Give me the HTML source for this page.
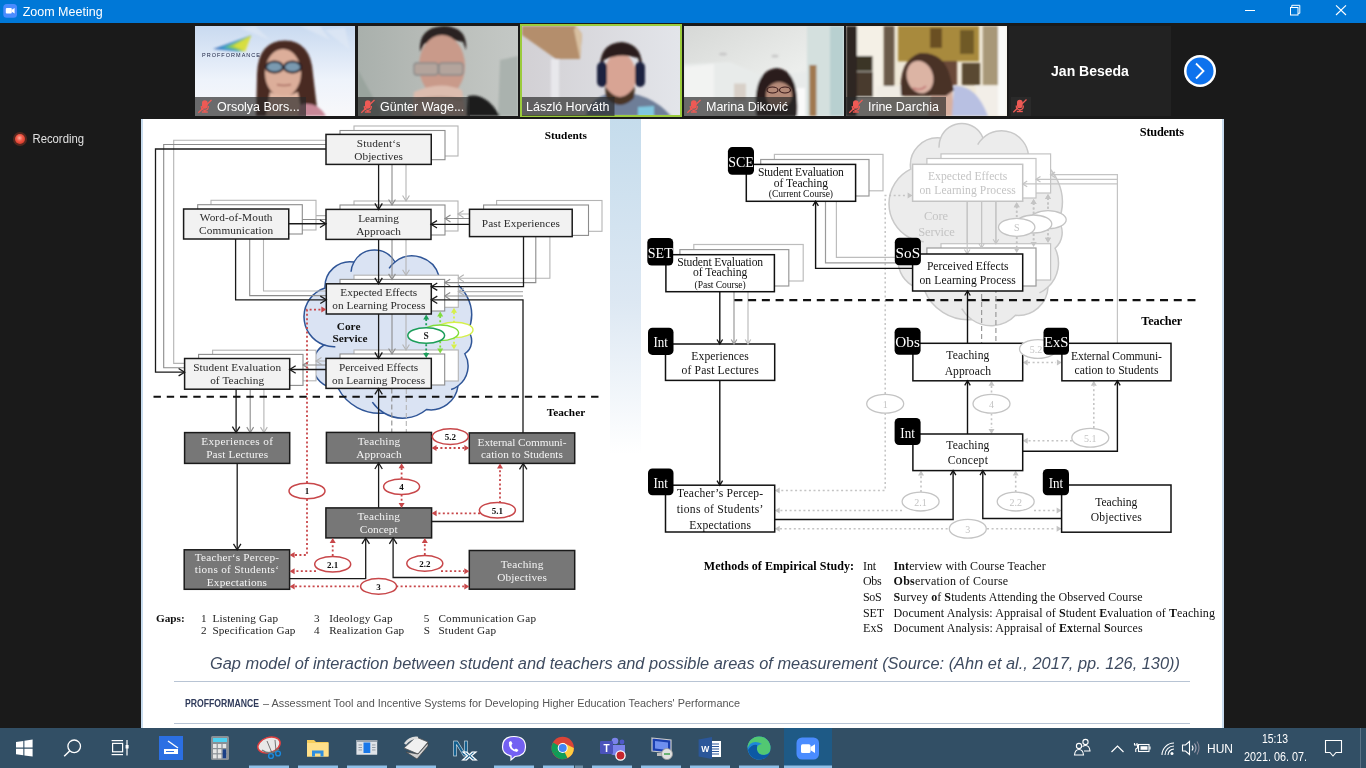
<!DOCTYPE html>
<html><head><meta charset="utf-8"><title>Zoom Meeting</title>
<style>
html,body{margin:0;padding:0;width:1366px;height:768px;overflow:hidden;background:#1a1a1a;}
body{position:relative;font-family:"Liberation Sans",sans-serif;}
</style></head><body>
<svg width="1366" height="768" viewBox="0 0 1366 768" style="position:absolute;left:0;top:0;will-change:transform"><rect x="0" y="0" width="1366" height="768" fill="#1a1a1a" stroke="none" stroke-width="1" rx="0" />
<rect x="0" y="0" width="1366" height="23" fill="#0078d7" stroke="none" stroke-width="1" rx="0" />
<rect x="3.3" y="4" width="13.7" height="13.7" fill="#4a8cff" stroke="none" stroke-width="1" rx="3.5" />
<rect x="5.8" y="8" width="6" height="5.6" fill="#fff" stroke="none" stroke-width="1" rx="1" />
<polygon points="11.8,9.8 14.6,8 14.6,13.6 11.8,11.8" fill="#fff"/>
<text x="22.7" y="15.7" font-size="12.5" fill="#fff" text-anchor="start" font-weight="normal" font-style="normal" font-family="Liberation Sans, sans-serif" >Zoom Meeting</text>
<line x1="1245" y1="10.5" x2="1255" y2="10.5" stroke="#fff" stroke-width="1" />
<rect x="1290.5" y="7.5" width="7.5" height="7.5" fill="none" stroke="#fff" stroke-width="1" rx="0" />
<polyline points="1291.8,7.5 1291.8,5.3 1299.8,5.3 1299.8,13.3 1298,13.3" fill="none" stroke="#fff" stroke-width="1"/>
<line x1="1336" y1="5.3" x2="1346" y2="15" stroke="#fff" stroke-width="1.1" />
<line x1="1346" y1="5.3" x2="1336" y2="15" stroke="#fff" stroke-width="1.1" />
<defs><linearGradient id="t1" x1="0" y1="0" x2="0" y2="1"><stop offset="0" stop-color="#c9daf0"/><stop offset="0.6" stop-color="#eef3fb"/><stop offset="1" stop-color="#f8f8fa"/></linearGradient><linearGradient id="t2" x1="0" y1="0" x2="1" y2="0"><stop offset="0" stop-color="#a9b0ac"/><stop offset="0.5" stop-color="#b9bdb9"/><stop offset="1" stop-color="#c4c8c5"/></linearGradient><linearGradient id="t3" x1="0" y1="0" x2="1" y2="0"><stop offset="0" stop-color="#d2d0d4"/><stop offset="1" stop-color="#e3e5ea"/></linearGradient><linearGradient id="t4" x1="0" y1="0" x2="1" y2="0"><stop offset="0" stop-color="#c5c8c6"/><stop offset="0.7" stop-color="#e0e6e4"/><stop offset="1" stop-color="#b8cccc"/></linearGradient><linearGradient id="blu" x1="0" y1="0" x2="0" y2="1"><stop offset="0" stop-color="#c5dcec"/><stop offset="0.55" stop-color="#dde8f3"/><stop offset="1" stop-color="#ffffff"/></linearGradient><radialGradient id="rec" cx="0.45" cy="0.4" r="0.6"><stop offset="0" stop-color="#ffb0a0"/><stop offset="0.5" stop-color="#f05a48"/><stop offset="1" stop-color="#d83a2a"/></radialGradient></defs>
<defs><filter id="bl" x="-10%" y="-10%" width="120%" height="120%"><feGaussianBlur stdDeviation="1.1"/></filter><filter id="bl2"><feGaussianBlur stdDeviation="2.5"/></filter><clipPath id="c1"><rect x="195" y="26" width="160" height="90"/></clipPath><clipPath id="c2"><rect x="358" y="26" width="160" height="90"/></clipPath><clipPath id="c3"><rect x="522" y="26" width="158" height="89"/></clipPath><clipPath id="c4"><rect x="684" y="26" width="160" height="90"/></clipPath><clipPath id="c5"><rect x="846" y="26" width="161" height="90"/></clipPath></defs>
<g clip-path="url(#c1)">
<rect x="195" y="26" width="160" height="90" fill="url(#t1)" stroke="none" stroke-width="1" rx="0" />
<g filter="url(#bl)">
<path d="M300 26 L330 40 L320 26 Z M325 30 L350 50 L345 28 Z M240 28 L270 40 L255 26Z" fill="#dfe8f5" opacity="0.7"/>
<path d="M213 49.0 L251 35.5 L238.0 51.5 Z" fill="#2a5fb0" opacity="0.85"/>
<path d="M217 48.4 L251 35.5 L239.5 51.5 Z" fill="#3a8fd0" opacity="0.85"/>
<path d="M221 47.8 L251 35.5 L241.0 51.5 Z" fill="#45b0c8" opacity="0.85"/>
<path d="M225 47.2 L251 35.5 L242.5 51.5 Z" fill="#6cc070" opacity="0.85"/>
<path d="M229 46.6 L251 35.5 L244.0 51.5 Z" fill="#a8d040" opacity="0.85"/>
<path d="M233 46.0 L251 35.5 L245.5 51.5 Z" fill="#e0e040" opacity="0.85"/>
</g>
<text x="202" y="57" font-size="5.5" fill="#1a2040" text-anchor="start" font-weight="normal" font-style="normal" font-family="Liberation Sans, sans-serif" font-weight="bold" textLength="58" lengthAdjust="spacing">PROFFORMANCE</text>
<g filter="url(#bl)">
<path d="M256 116 L257 74 Q258 41 285 40.6 Q311 41 313 74 L318 116 Z" fill="#4a2a22"/>
<ellipse cx="283" cy="73" rx="18" ry="24" fill="#dcae9a"/>
<path d="M265 60 Q270 47 285 46 Q300 47 302 62 L302 52 Q296 42 284 42 Q268 43 265 54 Z" fill="#4a2a22"/>
<ellipse cx="274.5" cy="67" rx="8.5" ry="5.6" fill="#7a9ab0" stroke="#1a1a28" stroke-width="2"/><ellipse cx="292.5" cy="67" rx="8.5" ry="5.6" fill="#7a9ab0" stroke="#1a1a28" stroke-width="2"/>
<path d="M277 84.5 Q284 86.5 291 84.5" stroke="#a86a60" stroke-width="1.5" fill="none"/>
<path d="M266 116 L270 92 Q284 99 298 92 L302 116 Z" fill="#e2b8a4"/>
<path d="M300 105 Q316 100 326 116 L298 116 Z" fill="#c88898"/>
</g></g>
<g clip-path="url(#c2)">
<rect x="358" y="26" width="160" height="90" fill="url(#t2)" stroke="none" stroke-width="1" rx="0" />
<g filter="url(#bl)">
<path d="M358 70 L380 110 L380 116 L358 116 Z" fill="#9aa49e"/><path d="M500 60 L518 56 L518 116 L498 116 Z" fill="#aab2ae"/>
<path d="M420 52 Q418 27 444 26 Q468 27 466 50 L463 42 Q444 36 424 44 Z" fill="#2a2420"/>
<ellipse cx="442" cy="66" rx="23" ry="31" fill="#c99a8a"/>
<rect x="414" y="63" width="24" height="12" rx="3" fill="#b4a49c" stroke="#888" stroke-width="1.3"/><rect x="439" y="63" width="24" height="12" rx="3" fill="#b4a49c" stroke="#888" stroke-width="1.3"/>
<path d="M412 116 L414 92 Q440 80 462 90 L466 116 Z" fill="#dcbcae"/>
<path d="M416 100 Q440 94 462 100" stroke="#b89888" stroke-width="1.5" fill="none"/>
<path d="M466 116 L468 96 Q486 92 500 116 Z" fill="#1e1e1e"/>
</g></g>
<rect x="520" y="24" width="162" height="93" fill="#9bcb3c" stroke="none" stroke-width="1" rx="0" />
<g clip-path="url(#c3)">
<rect x="522" y="26" width="158" height="89" fill="url(#t3)" stroke="none" stroke-width="1" rx="0" />
<g filter="url(#bl)">
<path d="M522 26 L576 26 L582 34 L580 59 L556 59 L522 35 Z" fill="#b48e6c"/><path d="M576 26 L582 34 L580 59 L574 30 Z" fill="#d8c0a0"/>
<rect x="551" y="59" width="8" height="40" fill="#e8e8ec"/>
<path d="M586 116 Q590 96 616 92 Q650 92 671 116 Z" fill="#6e7e98"/><path d="M638 107 L654 106 L654 116 L638 116 Z" fill="#80c8e0"/>
<ellipse cx="620" cy="76" rx="16" ry="23" fill="#d8a494"/>
<path d="M600 72 Q598 43 622 42 Q644 44 642 72 L638 58 Q620 52 604 60 Z" fill="#2a1e1a"/>
<rect x="597" y="62" width="10" height="25" rx="5" fill="#1e2440"/><rect x="635" y="62" width="10" height="25" rx="5" fill="#1e2440"/>
<path d="M605 86 Q620 108 635 86 L634 98 Q620 112 606 98 Z" fill="#4a3428"/>
</g></g>
<g clip-path="url(#c4)">
<defs><linearGradient id="mceil" x1="0" y1="0" x2="1" y2="1"><stop offset="0" stop-color="#d6d8d6"/><stop offset="0.6" stop-color="#eceeec"/><stop offset="1" stop-color="#e4e6e4"/></linearGradient></defs>
<rect x="684" y="26" width="160" height="90" fill="url(#mceil)" stroke="none" stroke-width="1" rx="0" />
<g filter="url(#bl)">
<path d="M684 64 L730 62 L760 75 L807 72 L807 116 L684 116 Z" fill="#e8ebea"/>
<path d="M684 67 L714 64 L714 116 L684 116 Z" fill="#f2f3f2"/>
<path d="M807 26 L844 26 L844 116 L807 116 Z" fill="#d4e0de"/><path d="M830 26 L844 26 L844 116 L830 116 Z" fill="#b8d0d0"/>
<ellipse cx="723" cy="54" rx="4" ry="1.5" fill="#c8c8c8"/><ellipse cx="775" cy="56" rx="3.5" ry="1.5" fill="#c8c8c8"/>
<rect x="734" y="83.5" width="12" height="17" fill="#d8d0c8"/>
<rect x="795" y="88" width="10" height="28" fill="#fafafa"/>
<rect x="809.4" y="65" width="7" height="51" fill="#a07850"/>
<path d="M756 116 Q752 70 777 68 Q800 70 797 116 Z" fill="#2a1c1c"/>
<ellipse cx="779" cy="95" rx="13" ry="13" fill="#b48a78"/>
</g>
<ellipse cx="772.5" cy="90" rx="5.5" ry="3" fill="none" stroke="#3a1a1a" stroke-width="1.1"/><ellipse cx="785" cy="90" rx="5.5" ry="3" fill="none" stroke="#3a1a1a" stroke-width="1.1"/>
</g>
<g clip-path="url(#c5)">
<rect x="846" y="26" width="161" height="90" fill="#efe8d8" stroke="none" stroke-width="1" rx="0" />
<g filter="url(#bl)">
<rect x="846" y="26" width="11" height="90" fill="#2e2820"/>
<rect x="857" y="26" width="25" height="90" fill="#f4f0e6"/>
<rect x="857" y="56" width="15.5" height="15.4" fill="#3a3428"/><rect x="857" y="72" width="16" height="25" fill="#4a3a2e"/>
<rect x="883.7" y="26" width="10.6" height="60" fill="#6a5a48"/>
<rect x="898" y="26" width="81" height="35.4" fill="#a88a3e"/><rect x="930" y="28" width="12" height="20" fill="#6a5020"/><rect x="960" y="30" width="14" height="24" fill="#705a28"/>
<rect x="982.8" y="26" width="15.2" height="59" fill="#a89878"/>
<rect x="939" y="61" width="18" height="24" fill="#6a4a38"/><rect x="962" y="63" width="18" height="22" fill="#5a4a30"/>
<rect x="876.6" y="86" width="26" height="11" fill="#f0ece4"/><rect x="975.7" y="86" width="22.3" height="30" fill="#f2eee8"/>
<rect x="998" y="26" width="9" height="90" fill="#fafaf8"/>
<path d="M928 116 L932 90 Q940 86 952 88 L954 116 Z" fill="#d8b0a0"/>
<path d="M952 116 L954 86 Q976 84 988 116 Z" fill="#b8c0e2"/>
<path d="M901 96 Q898 60 920 53 Q944 52 950 76 L954 90 L946 96 Z" fill="#4a3028"/>
<ellipse cx="920" cy="77" rx="13" ry="16.5" fill="#dcb4a4" transform="rotate(-18 920 77)"/>
<path d="M913 88 Q920 92 926 86" stroke="#c07070" stroke-width="1.5" fill="none"/>
</g></g>
<rect x="195" y="97" width="111" height="19" fill="rgba(40,40,40,0.68)" stroke="none" stroke-width="1" rx="0" />
<g transform="translate(198,99.5)" fill="#ee5a55" stroke="none"><rect x="4" y="0.8" width="5.6" height="8.5" rx="2.8"/><path d="M3.2 6.5 Q3.2 10.8 6.8 10.8 Q10.4 10.8 10.4 6.5" fill="none" stroke="#ee5a55" stroke-width="1.2"/><rect x="6.1" y="10.8" width="1.4" height="1.6"/><rect x="3.8" y="11.8" width="6" height="1.4"/><line x1="0.3" y1="13.3" x2="13.5" y2="0.5" stroke="#ee5a55" stroke-width="1.3"/></g>
<text x="217" y="111" font-size="12.5" fill="#fff" text-anchor="start" font-weight="normal" font-style="normal" font-family="Liberation Sans, sans-serif" >Orsolya Bors...</text>
<rect x="358" y="97" width="112" height="19" fill="rgba(40,40,40,0.68)" stroke="none" stroke-width="1" rx="0" />
<g transform="translate(361,99.5)" fill="#ee5a55" stroke="none"><rect x="4" y="0.8" width="5.6" height="8.5" rx="2.8"/><path d="M3.2 6.5 Q3.2 10.8 6.8 10.8 Q10.4 10.8 10.4 6.5" fill="none" stroke="#ee5a55" stroke-width="1.2"/><rect x="6.1" y="10.8" width="1.4" height="1.6"/><rect x="3.8" y="11.8" width="6" height="1.4"/><line x1="0.3" y1="13.3" x2="13.5" y2="0.5" stroke="#ee5a55" stroke-width="1.3"/></g>
<text x="380" y="111" font-size="12.5" fill="#fff" text-anchor="start" font-weight="normal" font-style="normal" font-family="Liberation Sans, sans-serif" >Günter Wage...</text>
<rect x="522" y="97" width="92.5" height="19" fill="rgba(40,40,40,0.68)" stroke="none" stroke-width="1" rx="0" />
<text x="526" y="111" font-size="12.5" fill="#fff" text-anchor="start" font-weight="normal" font-style="normal" font-family="Liberation Sans, sans-serif" >László Horváth</text>
<rect x="684" y="97" width="111" height="19" fill="rgba(40,40,40,0.68)" stroke="none" stroke-width="1" rx="0" />
<g transform="translate(687,99.5)" fill="#ee5a55" stroke="none"><rect x="4" y="0.8" width="5.6" height="8.5" rx="2.8"/><path d="M3.2 6.5 Q3.2 10.8 6.8 10.8 Q10.4 10.8 10.4 6.5" fill="none" stroke="#ee5a55" stroke-width="1.2"/><rect x="6.1" y="10.8" width="1.4" height="1.6"/><rect x="3.8" y="11.8" width="6" height="1.4"/><line x1="0.3" y1="13.3" x2="13.5" y2="0.5" stroke="#ee5a55" stroke-width="1.3"/></g>
<text x="706" y="111" font-size="12.5" fill="#fff" text-anchor="start" font-weight="normal" font-style="normal" font-family="Liberation Sans, sans-serif" >Marina Diković</text>
<rect x="846" y="97" width="100" height="19" fill="rgba(40,40,40,0.68)" stroke="none" stroke-width="1" rx="0" />
<g transform="translate(849,99.5)" fill="#ee5a55" stroke="none"><rect x="4" y="0.8" width="5.6" height="8.5" rx="2.8"/><path d="M3.2 6.5 Q3.2 10.8 6.8 10.8 Q10.4 10.8 10.4 6.5" fill="none" stroke="#ee5a55" stroke-width="1.2"/><rect x="6.1" y="10.8" width="1.4" height="1.6"/><rect x="3.8" y="11.8" width="6" height="1.4"/><line x1="0.3" y1="13.3" x2="13.5" y2="0.5" stroke="#ee5a55" stroke-width="1.3"/></g>
<text x="868" y="111" font-size="12.5" fill="#fff" text-anchor="start" font-weight="normal" font-style="normal" font-family="Liberation Sans, sans-serif" >Irine Darchia</text>
<rect x="1009" y="26" width="162" height="90" fill="#222222" stroke="none" stroke-width="1" rx="0" />
<text x="1090" y="76" font-size="14" fill="#fff" text-anchor="middle" font-weight="bold" font-style="normal" font-family="Liberation Sans, sans-serif" >Jan Beseda</text>
<rect x="1011" y="97" width="20" height="19" fill="#2a2a2a" stroke="none" stroke-width="1" rx="0" />
<g transform="translate(1013,99)" fill="#ee5a55" stroke="none"><rect x="4" y="0.8" width="5.6" height="8.5" rx="2.8"/><path d="M3.2 6.5 Q3.2 10.8 6.8 10.8 Q10.4 10.8 10.4 6.5" fill="none" stroke="#ee5a55" stroke-width="1.2"/><rect x="6.1" y="10.8" width="1.4" height="1.6"/><rect x="3.8" y="11.8" width="6" height="1.4"/><line x1="0.3" y1="13.3" x2="13.5" y2="0.5" stroke="#ee5a55" stroke-width="1.3"/></g>
<circle cx="1200" cy="71" r="16" fill="#fff"/><circle cx="1200" cy="71" r="13.5" fill="#0e72ed"/>
<polyline points="1196,63.5 1203.5,71 1196,78.5" fill="none" stroke="#fff" stroke-width="1.8"/>
<circle cx="20" cy="139" r="7" fill="#ff5030" opacity="0.25"/>
<circle cx="20" cy="139" r="5" fill="url(#rec)"/>
<text x="32.5" y="143.2" font-size="12" fill="#e0e0e0" text-anchor="start" font-weight="normal" font-style="normal" font-family="Liberation Sans, sans-serif" textLength="51.5" lengthAdjust="spacingAndGlyphs">Recording</text>
<rect x="141" y="119" width="1083" height="609" fill="#ffffff" stroke="none" stroke-width="1" rx="0" />
<rect x="141" y="119" width="2" height="609" fill="#c8dcee" stroke="none" stroke-width="1" rx="0" />
<rect x="1222" y="119" width="2" height="609" fill="#c8dcee" stroke="none" stroke-width="1" rx="0" />
<rect x="610" y="119" width="31" height="335" fill="url(#blu)" stroke="none" stroke-width="1" rx="0" />
<path d="M325.00 288.00 A25.09 25.09 0 0 1 354.00 262.00 A23.51 23.51 0 0 1 395.00 262.00 A27.86 27.86 0 0 1 439.00 276.00 A39.37 39.37 0 0 1 468.00 331.00 A15.41 15.41 0 0 1 464.80 353.75 A24.77 24.77 0 0 1 458.00 386.00 A27.44 27.44 0 0 1 426.50 409.50 A36.88 36.88 0 0 1 384.00 413.00 A46.67 46.67 0 0 1 338.00 388.00 A23.25 23.25 0 0 1 324.00 345.00 A30.07 30.07 0 0 1 325.00 288.00 Z" fill="#dae3f3" stroke="#2f5597" stroke-width="1.5"/>
<path d="M354.00 262.00 A23.51 23.51 0 0 0 351.06 271.74 M395.00 262.00 A27.86 27.86 0 0 0 389.09 268.41 M384.00 413.00 A36.88 36.88 0 0 1 372.35 402.09 M324.00 345.00 A30.07 30.07 0 0 0 335.35 346.71 M458.00 386.00 A24.77 24.77 0 0 1 451.12 389.56" fill="none" stroke="#2f5597" stroke-width="1.5"/>
<rect x="354" y="126" width="104" height="30" fill="#fff" stroke="#b4b4b4" stroke-width="1.1" rx="0" />
<rect x="354" y="201" width="104" height="30" fill="#fff" stroke="#b4b4b4" stroke-width="1.1" rx="0" />
<rect x="211" y="200.3" width="105" height="29.69999999999999" fill="#fff" stroke="#b4b4b4" stroke-width="1.1" rx="0" />
<rect x="496.6" y="200.5" width="105.39999999999998" height="30.80000000000001" fill="#fff" stroke="#b4b4b4" stroke-width="1.1" rx="0" />
<rect x="354" y="275.2" width="104.30000000000001" height="32.10000000000002" fill="#fff" stroke="#b4b4b4" stroke-width="1.1" rx="0" />
<rect x="354" y="350" width="104.30000000000001" height="31" fill="#fff" stroke="#b4b4b4" stroke-width="1.1" rx="0" />
<rect x="212.6" y="350.2" width="103.4" height="30.600000000000023" fill="#fff" stroke="#b4b4b4" stroke-width="1.1" rx="0" />
<polyline points="354,140.3 173.7,140.3 173.7,363.4 212.6,363.4" fill="none" stroke="#b4b4b4" stroke-width="1.1" stroke-linejoin="miter"/>
<line x1="406" y1="156" x2="406" y2="201" stroke="#b4b4b4" stroke-width="1.1" />
<line x1="316" y1="215.6" x2="354" y2="215.6" stroke="#b4b4b4" stroke-width="1.1" />
<line x1="496.6" y1="214" x2="458" y2="214" stroke="#b4b4b4" stroke-width="1.1" />
<line x1="406" y1="231" x2="406" y2="275.2" stroke="#b4b4b4" stroke-width="1.1" />
<polyline points="263.5,230 263.5,291 354,291" fill="none" stroke="#b4b4b4" stroke-width="1.1" stroke-linejoin="miter"/>
<polyline points="549.9,231.3 549.9,278.2 458.3,278.2" fill="none" stroke="#b4b4b4" stroke-width="1.1" stroke-linejoin="miter"/>
<line x1="523" y1="291.6" x2="458.3" y2="291.6" stroke="#b4b4b4" stroke-width="1.1" />
<line x1="406" y1="307.3" x2="406" y2="350" stroke="#b4b4b4" stroke-width="1.1" />
<line x1="354" y1="361" x2="316" y2="361" stroke="#b4b4b4" stroke-width="1.1" />
<line x1="263.9" y1="380.8" x2="263.9" y2="432.6" stroke="#b4b4b4" stroke-width="1.1" />
<line x1="406.3" y1="381" x2="406.3" y2="432.4" stroke="#b4b4b4" stroke-width="1.1" stroke-dasharray="5,3" />
<polyline points="402.59,195.5 406,201 409.41,195.5" fill="none" stroke="#b4b4b4" stroke-width="1.1" stroke-linejoin="miter"/>
<polyline points="463.5,210.59 458,214 463.5,217.41" fill="none" stroke="#b4b4b4" stroke-width="1.1" stroke-linejoin="miter"/>
<polyline points="402.59,269.7 406,275.2 409.41,269.7" fill="none" stroke="#b4b4b4" stroke-width="1.1" stroke-linejoin="miter"/>
<polyline points="463.8,274.78999999999996 458.3,278.2 463.8,281.61" fill="none" stroke="#b4b4b4" stroke-width="1.1" stroke-linejoin="miter"/>
<polyline points="463.8,288.19 458.3,291.6 463.8,295.01000000000005" fill="none" stroke="#b4b4b4" stroke-width="1.1" stroke-linejoin="miter"/>
<polyline points="402.59,344.5 406,350 409.41,344.5" fill="none" stroke="#b4b4b4" stroke-width="1.1" stroke-linejoin="miter"/>
<polyline points="321.5,357.59 316,361 321.5,364.41" fill="none" stroke="#b4b4b4" stroke-width="1.1" stroke-linejoin="miter"/>
<polyline points="260.48999999999995,427.1 263.9,432.6 267.31,427.1" fill="none" stroke="#b4b4b4" stroke-width="1.1" stroke-linejoin="miter"/>
<rect x="340" y="130.5" width="105" height="29.19999999999999" fill="#fff" stroke="#8c8c8c" stroke-width="1.1" rx="0" />
<rect x="340" y="205" width="105" height="30" fill="#fff" stroke="#8c8c8c" stroke-width="1.1" rx="0" />
<rect x="197.7" y="204.7" width="104.60000000000002" height="29.30000000000001" fill="#fff" stroke="#8c8c8c" stroke-width="1.1" rx="0" />
<rect x="483.6" y="205" width="104.89999999999998" height="30.400000000000006" fill="#fff" stroke="#8c8c8c" stroke-width="1.1" rx="0" />
<rect x="340" y="279.4" width="104.69999999999999" height="31.600000000000023" fill="#fff" stroke="#8c8c8c" stroke-width="1.1" rx="0" />
<rect x="340" y="354" width="104.69999999999999" height="31" fill="#fff" stroke="#8c8c8c" stroke-width="1.1" rx="0" />
<rect x="198.6" y="354.4" width="104.4" height="31.0" fill="#fff" stroke="#8c8c8c" stroke-width="1.1" rx="0" />
<polyline points="340,144.5 163.7,144.5 163.7,367.8 198.6,367.8" fill="none" stroke="#8c8c8c" stroke-width="1.1" stroke-linejoin="miter"/>
<line x1="392" y1="159.7" x2="392" y2="205" stroke="#8c8c8c" stroke-width="1.1" />
<line x1="302.3" y1="219.5" x2="340" y2="219.5" stroke="#8c8c8c" stroke-width="1.1" />
<line x1="483.6" y1="218.5" x2="445" y2="218.5" stroke="#8c8c8c" stroke-width="1.1" />
<line x1="392" y1="235" x2="392" y2="279.4" stroke="#8c8c8c" stroke-width="1.1" />
<polyline points="249.7,234 249.7,295.6 340,295.6" fill="none" stroke="#8c8c8c" stroke-width="1.1" stroke-linejoin="miter"/>
<polyline points="535.8,235.4 535.8,282.6 444.7,282.6" fill="none" stroke="#8c8c8c" stroke-width="1.1" stroke-linejoin="miter"/>
<line x1="523" y1="296" x2="444.7" y2="296" stroke="#8c8c8c" stroke-width="1.1" />
<line x1="392" y1="311" x2="392" y2="354" stroke="#8c8c8c" stroke-width="1.1" />
<line x1="340" y1="365" x2="303" y2="365" stroke="#8c8c8c" stroke-width="1.1" />
<line x1="250.2" y1="385.4" x2="250.2" y2="432.6" stroke="#8c8c8c" stroke-width="1.1" />
<line x1="391.8" y1="388.4" x2="391.8" y2="432.4" stroke="#8c8c8c" stroke-width="1.1" stroke-dasharray="5,3" />
<polyline points="388.59,199.5 392,205 395.41,199.5" fill="none" stroke="#8c8c8c" stroke-width="1.1" stroke-linejoin="miter"/>
<polyline points="450.5,215.09 445,218.5 450.5,221.91" fill="none" stroke="#8c8c8c" stroke-width="1.1" stroke-linejoin="miter"/>
<polyline points="388.59,273.9 392,279.4 395.41,273.9" fill="none" stroke="#8c8c8c" stroke-width="1.1" stroke-linejoin="miter"/>
<polyline points="450.2,279.19 444.7,282.6 450.2,286.01000000000005" fill="none" stroke="#8c8c8c" stroke-width="1.1" stroke-linejoin="miter"/>
<polyline points="450.2,292.59 444.7,296 450.2,299.41" fill="none" stroke="#8c8c8c" stroke-width="1.1" stroke-linejoin="miter"/>
<polyline points="388.59,348.5 392,354 395.41,348.5" fill="none" stroke="#8c8c8c" stroke-width="1.1" stroke-linejoin="miter"/>
<polyline points="308.5,361.59 303,365 308.5,368.41" fill="none" stroke="#8c8c8c" stroke-width="1.1" stroke-linejoin="miter"/>
<polyline points="246.79,427.1 250.2,432.6 253.60999999999999,427.1" fill="none" stroke="#8c8c8c" stroke-width="1.1" stroke-linejoin="miter"/>
<line x1="454" y1="312.3" x2="454" y2="345" stroke="#d6f04a" stroke-width="1.8" stroke-dasharray="2,2.2" />
<polygon points="451.0,312.8 454,307.8 457.0,312.8" fill="#d6f04a"/>
<polygon points="451.0,344.5 454,349.5 457.0,344.5" fill="#d6f04a"/>
<line x1="440.2" y1="316" x2="440.2" y2="349" stroke="#7fdc3c" stroke-width="1.8" stroke-dasharray="2,2.2" />
<polygon points="437.2,316.5 440.2,311.5 443.2,316.5" fill="#7fdc3c"/>
<polygon points="437.2,348.5 440.2,353.5 443.2,348.5" fill="#7fdc3c"/>
<line x1="426.2" y1="319" x2="426.2" y2="353.4" stroke="#1c9e5a" stroke-width="1.8" stroke-dasharray="2,2.2" />
<polygon points="423.2,319.5 426.2,314.5 429.2,319.5" fill="#1c9e5a"/>
<polygon points="423.2,352.9 426.2,357.9 429.2,352.9" fill="#1c9e5a"/>
<ellipse cx="454.6" cy="329.9" rx="18.4" ry="7.7" fill="#ffffff" stroke="#d6f04a" stroke-width="1.4"/>
<ellipse cx="440.2" cy="332.8" rx="18.4" ry="7.8" fill="#ffffff" stroke="#7fdc3c" stroke-width="1.4"/>
<ellipse cx="426.2" cy="335.5" rx="18.4" ry="7.8" fill="#ffffff" stroke="#1c9e5a" stroke-width="1.5"/>
<text x="426.2" y="339.2" font-size="9.5" fill="#222" text-anchor="middle" font-weight="bold" font-style="normal" font-family="Liberation Serif, serif" >S</text>
<rect x="326" y="134.4" width="105.25" height="30.0" fill="#f2f2f2" stroke="#1a1a1a" stroke-width="1.5" rx="0" />
<text x="378.625" y="146.8" font-size="11.3" fill="#2a2a2a" text-anchor="middle" font-weight="normal" font-style="normal" font-family="Liberation Serif, serif" textLength="43.7" lengthAdjust="spacing">Student‘s</text>
<text x="378.625" y="159.60000000000002" font-size="11.3" fill="#2a2a2a" text-anchor="middle" font-weight="normal" font-style="normal" font-family="Liberation Serif, serif" textLength="48.7" lengthAdjust="spacing">Objectives</text>
<rect x="326" y="209.4" width="105" height="30.0" fill="#f2f2f2" stroke="#1a1a1a" stroke-width="1.5" rx="0" />
<text x="378.5" y="221.8" font-size="11.3" fill="#2a2a2a" text-anchor="middle" font-weight="normal" font-style="normal" font-family="Liberation Serif, serif" textLength="40.6" lengthAdjust="spacing">Learning</text>
<text x="378.5" y="234.60000000000002" font-size="11.3" fill="#2a2a2a" text-anchor="middle" font-weight="normal" font-style="normal" font-family="Liberation Serif, serif" textLength="44.7" lengthAdjust="spacing">Approach</text>
<rect x="183.6" y="209" width="105.15" height="30" fill="#f2f2f2" stroke="#1a1a1a" stroke-width="1.5" rx="0" />
<text x="236.175" y="221.4" font-size="11.3" fill="#2a2a2a" text-anchor="middle" font-weight="normal" font-style="normal" font-family="Liberation Serif, serif" textLength="72.7" lengthAdjust="spacing">Word-of-Mouth</text>
<text x="236.175" y="234.20000000000002" font-size="11.3" fill="#2a2a2a" text-anchor="middle" font-weight="normal" font-style="normal" font-family="Liberation Serif, serif" textLength="74.2" lengthAdjust="spacing">Communication</text>
<rect x="469.5" y="209.3" width="102.70000000000005" height="27.299999999999983" fill="#f2f2f2" stroke="#1a1a1a" stroke-width="1.5" rx="0" />
<text x="520.85" y="226.75" font-size="11.3" fill="#2a2a2a" text-anchor="middle" font-weight="normal" font-style="normal" font-family="Liberation Serif, serif" textLength="78.2" lengthAdjust="spacing">Past Experiences</text>
<rect x="326.3" y="283.8" width="105.0" height="30.19999999999999" fill="#f2f2f2" stroke="#1a1a1a" stroke-width="1.5" rx="0" />
<text x="378.8" y="296.3" font-size="11.3" fill="#2a2a2a" text-anchor="middle" font-weight="normal" font-style="normal" font-family="Liberation Serif, serif" textLength="76.9" lengthAdjust="spacing">Expected Effects</text>
<text x="378.8" y="309.1" font-size="11.3" fill="#2a2a2a" text-anchor="middle" font-weight="normal" font-style="normal" font-family="Liberation Serif, serif" textLength="93.1" lengthAdjust="spacing">on Learning Process</text>
<rect x="326" y="358.4" width="105.30000000000001" height="30.0" fill="#f2f2f2" stroke="#1a1a1a" stroke-width="1.5" rx="0" />
<text x="378.65" y="370.8" font-size="11.3" fill="#2a2a2a" text-anchor="middle" font-weight="normal" font-style="normal" font-family="Liberation Serif, serif" textLength="79.2" lengthAdjust="spacing">Perceived Effects</text>
<text x="378.65" y="383.6" font-size="11.3" fill="#2a2a2a" text-anchor="middle" font-weight="normal" font-style="normal" font-family="Liberation Serif, serif" textLength="93.1" lengthAdjust="spacing">on Learning Process</text>
<rect x="184.6" y="358.5" width="105.1" height="30.69999999999999" fill="#f2f2f2" stroke="#1a1a1a" stroke-width="1.5" rx="0" />
<text x="237.14999999999998" y="371.25000000000006" font-size="11.3" fill="#2a2a2a" text-anchor="middle" font-weight="normal" font-style="normal" font-family="Liberation Serif, serif" textLength="87.9" lengthAdjust="spacing">Student Evaluation</text>
<text x="237.14999999999998" y="384.05000000000007" font-size="11.3" fill="#2a2a2a" text-anchor="middle" font-weight="normal" font-style="normal" font-family="Liberation Serif, serif" textLength="54" lengthAdjust="spacing">of Teaching</text>
<rect x="184.6" y="432.6" width="105.1" height="30.799999999999955" fill="#777777" stroke="#1a1a1a" stroke-width="1.5" rx="0" />
<text x="237.14999999999998" y="445.40000000000003" font-size="11.3" fill="#f4f4f4" text-anchor="middle" font-weight="normal" font-style="normal" font-family="Liberation Serif, serif" textLength="71.6" lengthAdjust="spacing">Experiences of</text>
<text x="237.14999999999998" y="458.20000000000005" font-size="11.3" fill="#f4f4f4" text-anchor="middle" font-weight="normal" font-style="normal" font-family="Liberation Serif, serif" textLength="62" lengthAdjust="spacing">Past Lectures</text>
<rect x="326.4" y="432.4" width="105.10000000000002" height="30.600000000000023" fill="#777777" stroke="#1a1a1a" stroke-width="1.5" rx="0" />
<text x="378.95" y="445.1" font-size="11.3" fill="#f4f4f4" text-anchor="middle" font-weight="normal" font-style="normal" font-family="Liberation Serif, serif" textLength="42.3" lengthAdjust="spacing">Teaching</text>
<text x="378.95" y="457.90000000000003" font-size="11.3" fill="#f4f4f4" text-anchor="middle" font-weight="normal" font-style="normal" font-family="Liberation Serif, serif" textLength="45.4" lengthAdjust="spacing">Approach</text>
<rect x="469.3" y="432.9" width="105.40000000000003" height="30.5" fill="#777777" stroke="#1a1a1a" stroke-width="1.5" rx="0" />
<text x="522.0" y="445.55" font-size="11.3" fill="#f4f4f4" text-anchor="middle" font-weight="normal" font-style="normal" font-family="Liberation Serif, serif" textLength="88.8" lengthAdjust="spacing">External Communi-</text>
<text x="522.0" y="458.35" font-size="11.3" fill="#f4f4f4" text-anchor="middle" font-weight="normal" font-style="normal" font-family="Liberation Serif, serif" textLength="81.9" lengthAdjust="spacing">cation to Students</text>
<rect x="325.9" y="507.9" width="105.70000000000005" height="30.0" fill="#777777" stroke="#1a1a1a" stroke-width="1.5" rx="0" />
<text x="378.75" y="520.3" font-size="11.3" fill="#f4f4f4" text-anchor="middle" font-weight="normal" font-style="normal" font-family="Liberation Serif, serif" textLength="42.3" lengthAdjust="spacing">Teaching</text>
<text x="378.75" y="533.0999999999999" font-size="11.3" fill="#f4f4f4" text-anchor="middle" font-weight="normal" font-style="normal" font-family="Liberation Serif, serif" textLength="37.9" lengthAdjust="spacing">Concept</text>
<rect x="184.2" y="549.8" width="105.40000000000003" height="39.5" fill="#777777" stroke="#1a1a1a" stroke-width="1.5" rx="0" />
<text x="236.9" y="560.6" font-size="11.3" fill="#f4f4f4" text-anchor="middle" font-weight="normal" font-style="normal" font-family="Liberation Serif, serif" textLength="84.3" lengthAdjust="spacing">Teacher‘s Percep-</text>
<text x="236.9" y="573.3000000000001" font-size="11.3" fill="#f4f4f4" text-anchor="middle" font-weight="normal" font-style="normal" font-family="Liberation Serif, serif" textLength="84.3" lengthAdjust="spacing">tions of Students‘</text>
<text x="236.9" y="586.0" font-size="11.3" fill="#f4f4f4" text-anchor="middle" font-weight="normal" font-style="normal" font-family="Liberation Serif, serif" textLength="60.2" lengthAdjust="spacing">Expectations</text>
<rect x="469.3" y="550.5" width="105.40000000000003" height="38.700000000000045" fill="#777777" stroke="#1a1a1a" stroke-width="1.5" rx="0" />
<text x="522.0" y="568.0" font-size="11.3" fill="#f4f4f4" text-anchor="middle" font-weight="normal" font-style="normal" font-family="Liberation Serif, serif" textLength="42.7" lengthAdjust="spacing">Teaching</text>
<text x="522.0" y="580.5" font-size="11.3" fill="#f4f4f4" text-anchor="middle" font-weight="normal" font-style="normal" font-family="Liberation Serif, serif" textLength="49.6" lengthAdjust="spacing">Objectives</text>
<polyline points="326,149 155.5,149 155.5,372.2 184.6,372.2" fill="none" stroke="#1a1a1a" stroke-width="1.3" stroke-linejoin="miter"/>
<line x1="378.6" y1="164.4" x2="378.6" y2="209" stroke="#1a1a1a" stroke-width="1.3" />
<line x1="288.75" y1="223.75" x2="326" y2="223.75" stroke="#1a1a1a" stroke-width="1.3" />
<line x1="469.5" y1="224.3" x2="431" y2="224.3" stroke="#1a1a1a" stroke-width="1.3" />
<line x1="378.6" y1="239.4" x2="378.6" y2="283.8" stroke="#1a1a1a" stroke-width="1.3" />
<polyline points="235.6,239 235.6,299.8 326,299.8" fill="none" stroke="#1a1a1a" stroke-width="1.3" stroke-linejoin="miter"/>
<polyline points="523.5,236.6 523.5,286.7 431.3,286.7" fill="none" stroke="#1a1a1a" stroke-width="1.3" stroke-linejoin="miter"/>
<polyline points="523,432.9 523,299.8 431.3,299.8" fill="none" stroke="#1a1a1a" stroke-width="1.3" stroke-linejoin="miter"/>
<line x1="378.6" y1="314" x2="378.6" y2="358.4" stroke="#1a1a1a" stroke-width="1.3" />
<line x1="326" y1="369.5" x2="289.7" y2="369.5" stroke="#1a1a1a" stroke-width="1.3" />
<line x1="236.1" y1="389.2" x2="236.1" y2="432.6" stroke="#1a1a1a" stroke-width="1.3" />
<line x1="237.2" y1="463.4" x2="237.2" y2="549.8" stroke="#1a1a1a" stroke-width="1.3" />
<line x1="378.6" y1="432.4" x2="378.6" y2="388.4" stroke="#1a1a1a" stroke-width="1.3" />
<line x1="378.6" y1="507.9" x2="378.6" y2="463" stroke="#1a1a1a" stroke-width="1.3" />
<polyline points="431.6,521.5 523.2,521.5 523.2,463.4" fill="none" stroke="#1a1a1a" stroke-width="1.3" stroke-linejoin="miter"/>
<polyline points="289.6,578.7 365.7,578.7 365.7,537.9" fill="none" stroke="#1a1a1a" stroke-width="1.3" stroke-linejoin="miter"/>
<polyline points="469.3,577.5 393.1,577.5 393.1,537.9" fill="none" stroke="#1a1a1a" stroke-width="1.3" stroke-linejoin="miter"/>
<line x1="153.5" y1="396.7" x2="599" y2="396.7" stroke="#111" stroke-width="2.1" stroke-dasharray="7.4,5.86" />
<polyline points="178.6,368.47999999999996 184.6,372.2 178.6,375.92" fill="none" stroke="#1a1a1a" stroke-width="1.3" stroke-linejoin="miter"/>
<polyline points="374.88,203.4 378.6,209.4 382.32000000000005,203.4" fill="none" stroke="#1a1a1a" stroke-width="1.3" stroke-linejoin="miter"/>
<polyline points="320,220.03 326,223.75 320,227.47" fill="none" stroke="#1a1a1a" stroke-width="1.3" stroke-linejoin="miter"/>
<polyline points="437,220.58 431,224.3 437,228.02" fill="none" stroke="#1a1a1a" stroke-width="1.3" stroke-linejoin="miter"/>
<polyline points="374.88,277.8 378.6,283.8 382.32000000000005,277.8" fill="none" stroke="#1a1a1a" stroke-width="1.3" stroke-linejoin="miter"/>
<polyline points="320.3,296.08 326.3,299.8 320.3,303.52000000000004" fill="none" stroke="#1a1a1a" stroke-width="1.3" stroke-linejoin="miter"/>
<polyline points="437.3,282.97999999999996 431.3,286.7 437.3,290.42" fill="none" stroke="#1a1a1a" stroke-width="1.3" stroke-linejoin="miter"/>
<polyline points="437.3,296.08 431.3,299.8 437.3,303.52000000000004" fill="none" stroke="#1a1a1a" stroke-width="1.3" stroke-linejoin="miter"/>
<polyline points="374.88,352.4 378.6,358.4 382.32000000000005,352.4" fill="none" stroke="#1a1a1a" stroke-width="1.3" stroke-linejoin="miter"/>
<polyline points="295.7,365.78 289.7,369.5 295.7,373.22" fill="none" stroke="#1a1a1a" stroke-width="1.3" stroke-linejoin="miter"/>
<polyline points="232.38,426.6 236.1,432.6 239.82,426.6" fill="none" stroke="#1a1a1a" stroke-width="1.3" stroke-linejoin="miter"/>
<polyline points="233.48,543.8 237.2,549.8 240.92,543.8" fill="none" stroke="#1a1a1a" stroke-width="1.3" stroke-linejoin="miter"/>
<polyline points="374.88,394.4 378.6,388.4 382.32000000000005,394.4" fill="none" stroke="#1a1a1a" stroke-width="1.3" stroke-linejoin="miter"/>
<polyline points="374.88,469 378.6,463 382.32000000000005,469" fill="none" stroke="#1a1a1a" stroke-width="1.3" stroke-linejoin="miter"/>
<polyline points="519.48,469.4 523.2,463.4 526.9200000000001,469.4" fill="none" stroke="#1a1a1a" stroke-width="1.3" stroke-linejoin="miter"/>
<polyline points="361.97999999999996,543.9 365.7,537.9 369.42,543.9" fill="none" stroke="#1a1a1a" stroke-width="1.3" stroke-linejoin="miter"/>
<polyline points="389.38,543.9 393.1,537.9 396.82000000000005,543.9" fill="none" stroke="#1a1a1a" stroke-width="1.3" stroke-linejoin="miter"/>
<polyline points="307,483 307,309.6 321,309.6" fill="none" stroke="#c8474a" stroke-width="1.8" stroke-dasharray="2,2.4" stroke-linejoin="miter"/>
<polygon points="321.3,306.6 326.3,309.6 321.3,312.6" fill="#c8474a"/>
<polyline points="307,499 307,555 295,555" fill="none" stroke="#c8474a" stroke-width="1.8" stroke-dasharray="2,2.4" stroke-linejoin="miter"/>
<polygon points="294.6,552.0 289.6,555 294.6,558.0" fill="#c8474a"/>
<line x1="436" y1="448" x2="464" y2="448" stroke="#c8474a" stroke-width="1.8" stroke-dasharray="2,2.4" />
<polygon points="436.5,445.0 431.5,448 436.5,451.0" fill="#c8474a"/>
<polygon points="464.3,445.0 469.3,448 464.3,451.0" fill="#c8474a"/>
<line x1="401.6" y1="468" x2="401.6" y2="503" stroke="#c8474a" stroke-width="1.8" stroke-dasharray="2,2.4" />
<polygon points="398.6,468.2 401.6,463.2 404.6,468.2" fill="#c8474a"/>
<polygon points="398.6,502.9 401.6,507.9 404.6,502.9" fill="#c8474a"/>
<line x1="500" y1="503" x2="500" y2="468" stroke="#c8474a" stroke-width="1.8" stroke-dasharray="2,2.4" />
<polygon points="497.0,468.4 500,463.4 503.0,468.4" fill="#c8474a"/>
<line x1="480" y1="513.3" x2="437" y2="513.3" stroke="#c8474a" stroke-width="1.8" stroke-dasharray="2,2.4" />
<polygon points="436.6,510.29999999999995 431.6,513.3 436.6,516.3" fill="#c8474a"/>
<line x1="332.7" y1="556" x2="332.7" y2="543" stroke="#c8474a" stroke-width="1.8" stroke-dasharray="2,2.4" />
<polygon points="329.7,542.9 332.7,537.9 335.7,542.9" fill="#c8474a"/>
<line x1="316" y1="571.2" x2="295" y2="571.2" stroke="#c8474a" stroke-width="1.8" stroke-dasharray="2,2.4" />
<polygon points="294.6,568.2 289.6,571.2 294.6,574.2" fill="#c8474a"/>
<line x1="424.8" y1="555" x2="424.8" y2="543" stroke="#c8474a" stroke-width="1.8" stroke-dasharray="2,2.4" />
<polygon points="421.8,542.9 424.8,537.9 427.8,542.9" fill="#c8474a"/>
<line x1="441" y1="571.2" x2="464" y2="571.2" stroke="#c8474a" stroke-width="1.8" stroke-dasharray="2,2.4" />
<polygon points="464.3,568.2 469.3,571.2 464.3,574.2" fill="#c8474a"/>
<line x1="295" y1="586.4" x2="464" y2="586.4" stroke="#c8474a" stroke-width="1.8" stroke-dasharray="2,2.4" />
<polygon points="294.6,583.4 289.6,586.4 294.6,589.4" fill="#c8474a"/>
<polygon points="464.3,583.4 469.3,586.4 464.3,589.4" fill="#c8474a"/>
<ellipse cx="307" cy="491" rx="18" ry="7.8" fill="#fff" stroke="#c8474a" stroke-width="1.5"/>
<text x="307" y="494.3" font-size="9" fill="#111" text-anchor="middle" font-weight="bold" font-style="normal" font-family="Liberation Serif, serif" >1</text>
<ellipse cx="450.3" cy="436.6" rx="18" ry="7.8" fill="#fff" stroke="#c8474a" stroke-width="1.5"/>
<text x="450.3" y="439.90000000000003" font-size="9" fill="#111" text-anchor="middle" font-weight="bold" font-style="normal" font-family="Liberation Serif, serif" >5.2</text>
<ellipse cx="401.6" cy="486.7" rx="18" ry="7.8" fill="#fff" stroke="#c8474a" stroke-width="1.5"/>
<text x="401.6" y="490.0" font-size="9" fill="#111" text-anchor="middle" font-weight="bold" font-style="normal" font-family="Liberation Serif, serif" >4</text>
<ellipse cx="497.4" cy="510.2" rx="18" ry="7.8" fill="#fff" stroke="#c8474a" stroke-width="1.5"/>
<text x="497.4" y="513.5" font-size="9" fill="#111" text-anchor="middle" font-weight="bold" font-style="normal" font-family="Liberation Serif, serif" >5.1</text>
<ellipse cx="332.7" cy="564.2" rx="18" ry="7.8" fill="#fff" stroke="#c8474a" stroke-width="1.5"/>
<text x="332.7" y="567.5" font-size="9" fill="#111" text-anchor="middle" font-weight="bold" font-style="normal" font-family="Liberation Serif, serif" >2.1</text>
<ellipse cx="424.8" cy="563.4" rx="18" ry="7.8" fill="#fff" stroke="#c8474a" stroke-width="1.5"/>
<text x="424.8" y="566.6999999999999" font-size="9" fill="#111" text-anchor="middle" font-weight="bold" font-style="normal" font-family="Liberation Serif, serif" >2.2</text>
<ellipse cx="378.6" cy="586.4" rx="18" ry="7.8" fill="#fff" stroke="#c8474a" stroke-width="1.5"/>
<text x="378.6" y="589.6999999999999" font-size="9" fill="#111" text-anchor="middle" font-weight="bold" font-style="normal" font-family="Liberation Serif, serif" >3</text>
<text x="544.8" y="138.75" font-size="11.3" fill="#000" text-anchor="start" font-weight="bold" font-style="normal" font-family="Liberation Serif, serif" >Students</text>
<text x="546.7" y="416.3" font-size="11.3" fill="#000" text-anchor="start" font-weight="bold" font-style="normal" font-family="Liberation Serif, serif" >Teacher</text>
<text x="348.6" y="330" font-size="11.3" fill="#111" text-anchor="middle" font-weight="bold" font-style="normal" font-family="Liberation Serif, serif" >Core</text>
<text x="350" y="342.4" font-size="11.3" fill="#111" text-anchor="middle" font-weight="bold" font-style="normal" font-family="Liberation Serif, serif" >Service</text>
<text x="155.9" y="622" font-size="11.3" fill="#111" text-anchor="start" font-weight="bold" font-style="normal" font-family="Liberation Serif, serif" >Gaps:</text>
<text x="201" y="622" font-size="11.2" fill="#222" text-anchor="start" font-weight="normal" font-style="normal" font-family="Liberation Serif, serif" >1</text>
<text x="201" y="634.3" font-size="11.2" fill="#222" text-anchor="start" font-weight="normal" font-style="normal" font-family="Liberation Serif, serif" >2</text>
<text x="314" y="622" font-size="11.2" fill="#222" text-anchor="start" font-weight="normal" font-style="normal" font-family="Liberation Serif, serif" >3</text>
<text x="314" y="634.3" font-size="11.2" fill="#222" text-anchor="start" font-weight="normal" font-style="normal" font-family="Liberation Serif, serif" >4</text>
<text x="423.8" y="622" font-size="11.2" fill="#222" text-anchor="start" font-weight="normal" font-style="normal" font-family="Liberation Serif, serif" >5</text>
<text x="423.8" y="634.3" font-size="11.2" fill="#222" text-anchor="start" font-weight="normal" font-style="normal" font-family="Liberation Serif, serif" >S</text>
<text x="212.4" y="622" font-size="11.2" fill="#222" text-anchor="start" font-weight="normal" font-style="normal" font-family="Liberation Serif, serif" textLength="65.6" lengthAdjust="spacing">Listening Gap</text>
<text x="212.4" y="634.3" font-size="11.2" fill="#222" text-anchor="start" font-weight="normal" font-style="normal" font-family="Liberation Serif, serif" textLength="83" lengthAdjust="spacing">Specification Gap</text>
<text x="329.2" y="622" font-size="11.2" fill="#222" text-anchor="start" font-weight="normal" font-style="normal" font-family="Liberation Serif, serif" textLength="63.3" lengthAdjust="spacing">Ideology Gap</text>
<text x="329.2" y="634.3" font-size="11.2" fill="#222" text-anchor="start" font-weight="normal" font-style="normal" font-family="Liberation Serif, serif" textLength="75" lengthAdjust="spacing">Realization Gap</text>
<text x="438.4" y="622" font-size="11.2" fill="#222" text-anchor="start" font-weight="normal" font-style="normal" font-family="Liberation Serif, serif" textLength="97.6" lengthAdjust="spacing">Communication Gap</text>
<text x="438.4" y="634.3" font-size="11.2" fill="#222" text-anchor="start" font-weight="normal" font-style="normal" font-family="Liberation Serif, serif" textLength="57.6" lengthAdjust="spacing">Student Gap</text>
<path d="M910.69 169.19 A27.38 27.38 0 0 1 940.64 137.93 A22.75 22.75 0 0 1 982.99 137.93 A27.17 27.17 0 0 1 1028.43 154.76 A49.47 49.47 0 0 1 1058.39 220.89 A20.50 20.50 0 0 1 1055.08 248.25 A33.18 33.18 0 0 1 1048.06 287.02 A29.76 29.76 0 0 1 1015.52 315.28 A33.89 33.89 0 0 1 971.63 319.49 A47.02 47.02 0 0 1 924.12 289.43 A28.78 28.78 0 0 1 909.66 237.73 A38.32 38.32 0 0 1 910.69 169.19 Z" fill="#ececec" stroke="#c9c9c9" stroke-width="1.5"/>
<path d="M940.64 137.93 A22.75 22.75 0 0 0 939.11 147.66 M982.99 137.93 A27.17 27.17 0 0 0 977.73 144.61 M971.63 319.49 A33.89 33.89 0 0 1 961.74 308.65 M909.66 237.73 A38.32 38.32 0 0 0 923.68 241.87 M1048.06 287.02 A33.18 33.18 0 0 1 1039.48 292.87" fill="none" stroke="#c9c9c9" stroke-width="1.5"/>
<line x1="967.2" y1="201.25" x2="967.2" y2="254" stroke="#c4c4c4" stroke-width="1.1" />
<line x1="981.6" y1="198" x2="981.6" y2="248" stroke="#c4c4c4" stroke-width="1.1" />
<line x1="995.9" y1="193" x2="995.9" y2="243.7" stroke="#c4c4c4" stroke-width="1.1" />
<line x1="1048" y1="198" x2="1048" y2="238.7" stroke="#c4c4c4" stroke-width="1.6" stroke-dasharray="2,2.4" />
<polygon points="1045.0,199 1048,194 1051.0,199" fill="#c4c4c4"/>
<polygon points="1045.0,237.7 1048,242.7 1051.0,237.7" fill="#c4c4c4"/>
<line x1="1033.6" y1="203" x2="1033.6" y2="243" stroke="#c4c4c4" stroke-width="1.6" stroke-dasharray="2,2.4" />
<polygon points="1030.6,204 1033.6,199 1036.6,204" fill="#c4c4c4"/>
<polygon points="1030.6,242 1033.6,247 1036.6,242" fill="#c4c4c4"/>
<line x1="1016.7" y1="206.25" x2="1016.7" y2="249" stroke="#c4c4c4" stroke-width="1.6" stroke-dasharray="2,2.4" />
<polygon points="1013.7,207.25 1016.7,202.25 1019.7,207.25" fill="#c4c4c4"/>
<polygon points="1013.7,248 1016.7,253 1019.7,248" fill="#c4c4c4"/>
<polyline points="885.2,394 885.2,195.5 907,195.5" fill="none" stroke="#c4c4c4" stroke-width="1.5" stroke-dasharray="2,2.6" stroke-linejoin="miter"/>
<polygon points="907.6,192.5 912.6,195.5 907.6,198.5" fill="#c4c4c4"/>
<polyline points="885.2,413 885.2,490.5 780,490.5" fill="none" stroke="#c4c4c4" stroke-width="1.5" stroke-dasharray="2,2.6" stroke-linejoin="miter"/>
<polygon points="779.7,487.5 774.7,490.5 779.7,493.5" fill="#c4c4c4"/>
<polyline points="941,257.3 836.4,257.3 836.4,190.8" fill="none" stroke="#bdbdbd" stroke-width="1.2" stroke-linejoin="miter"/>
<polyline points="926.9,262.9 825.5,262.9 825.5,196" fill="none" stroke="#9a9a9a" stroke-width="1.2" stroke-linejoin="miter"/>
<polyline points="912.6,268.4 815.6,268.4 815.6,201.3" fill="none" stroke="#111" stroke-width="1.4" stroke-linejoin="miter"/>
<line x1="719.8" y1="291.7" x2="719.8" y2="344" stroke="#111" stroke-width="1.4" />
<line x1="734" y1="286" x2="734" y2="344" stroke="#9a9a9a" stroke-width="1.2" />
<line x1="748" y1="281" x2="748" y2="344" stroke="#bdbdbd" stroke-width="1.2" />
<line x1="734.4" y1="300.2" x2="1196" y2="300.2" stroke="#111" stroke-width="2.2" stroke-dasharray="8,5.73" />
<line x1="967.5" y1="343.3" x2="967.5" y2="291" stroke="#111" stroke-width="1.4" />
<line x1="981.6" y1="286" x2="981.6" y2="343.3" stroke="#9a9a9a" stroke-width="1.2" stroke-dasharray="5,3" />
<line x1="995.9" y1="280" x2="995.9" y2="343.3" stroke="#9a9a9a" stroke-width="1.2" stroke-dasharray="5,3" />
<line x1="719.8" y1="380.4" x2="719.8" y2="485.2" stroke="#111" stroke-width="1.4" />
<line x1="967.5" y1="434" x2="967.5" y2="380.8" stroke="#111" stroke-width="1.4" />
<polyline points="1022.7,451.25 1117.4,451.25 1117.4,380.8" fill="none" stroke="#111" stroke-width="1.4" stroke-linejoin="miter"/>
<polyline points="774.7,519.5 953.1,519.5 953.1,470.6" fill="none" stroke="#111" stroke-width="1.4" stroke-linejoin="miter"/>
<polyline points="1061.6,518.5 982.8,518.5 982.8,470.6" fill="none" stroke="#111" stroke-width="1.4" stroke-linejoin="miter"/>
<line x1="991.5" y1="386" x2="991.5" y2="428" stroke="#c4c4c4" stroke-width="1.6" stroke-dasharray="2,2.6" />
<polygon points="988.5,385.8 991.5,380.8 994.5,385.8" fill="#c4c4c4"/>
<polygon points="988.5,429 991.5,434 994.5,429" fill="#c4c4c4"/>
<line x1="1028" y1="362.5" x2="1056" y2="362.5" stroke="#c4c4c4" stroke-width="1.6" stroke-dasharray="2,2.6" />
<polygon points="1027.7,359.5 1022.7,362.5 1027.7,365.5" fill="#c4c4c4"/>
<polygon points="1056.9,359.5 1061.9,362.5 1056.9,365.5" fill="#c4c4c4"/>
<line x1="1093.8" y1="428" x2="1093.8" y2="386" stroke="#c4c4c4" stroke-width="1.6" stroke-dasharray="2,2.6" />
<polygon points="1090.8,385.8 1093.8,380.8 1096.8,385.8" fill="#c4c4c4"/>
<line x1="1072" y1="440.8" x2="1028" y2="440.8" stroke="#c4c4c4" stroke-width="1.6" stroke-dasharray="2,2.6" />
<polygon points="1027.7,437.8 1022.7,440.8 1027.7,443.8" fill="#c4c4c4"/>
<line x1="921" y1="492" x2="921" y2="476" stroke="#c4c4c4" stroke-width="1.6" stroke-dasharray="2,2.6" />
<polygon points="918.0,475.6 921,470.6 924.0,475.6" fill="#c4c4c4"/>
<line x1="902" y1="510.5" x2="780" y2="510.5" stroke="#c4c4c4" stroke-width="1.6" stroke-dasharray="2,2.6" />
<polygon points="779.7,507.5 774.7,510.5 779.7,513.5" fill="#c4c4c4"/>
<line x1="1015.7" y1="492" x2="1015.7" y2="476" stroke="#c4c4c4" stroke-width="1.6" stroke-dasharray="2,2.6" />
<polygon points="1012.7,475.6 1015.7,470.6 1018.7,475.6" fill="#c4c4c4"/>
<line x1="1034" y1="510.5" x2="1056" y2="510.5" stroke="#c4c4c4" stroke-width="1.6" stroke-dasharray="2,2.6" />
<polygon points="1056.6,507.5 1061.6,510.5 1056.6,513.5" fill="#c4c4c4"/>
<line x1="780" y1="528.7" x2="1056" y2="528.7" stroke="#c4c4c4" stroke-width="1.6" stroke-dasharray="2,2.6" />
<polygon points="779.7,525.7 774.7,528.7 779.7,531.7" fill="#c4c4c4"/>
<polygon points="1056.6,525.7 1061.6,528.7 1056.6,531.7" fill="#c4c4c4"/>
<rect x="774.4" y="154.4" width="108.60000000000002" height="36.400000000000006" fill="#fff" stroke="#bdbdbd" stroke-width="1.2" rx="0" />
<rect x="760.7" y="159.5" width="108.29999999999995" height="36.5" fill="#fff" stroke="#9a9a9a" stroke-width="1.2" rx="0" />
<rect x="693.8" y="244.5" width="109.40000000000009" height="36.5" fill="#fff" stroke="#bdbdbd" stroke-width="1.2" rx="0" />
<rect x="679.9" y="249.6" width="108.89999999999998" height="36.400000000000006" fill="#fff" stroke="#9a9a9a" stroke-width="1.2" rx="0" />
<rect x="941" y="153.9" width="109.59999999999991" height="39.099999999999994" fill="#fff" stroke="#c4c4c4" stroke-width="1.2" rx="0" />
<rect x="926.9" y="158.5" width="109.10000000000002" height="39.5" fill="#fff" stroke="#c4c4c4" stroke-width="1.2" rx="0" />
<rect x="941" y="243.7" width="109.59999999999991" height="36.30000000000001" fill="#fff" stroke="#c4c4c4" stroke-width="1.2" rx="0" />
<rect x="926.9" y="248" width="109.10000000000002" height="38" fill="#fff" stroke="#9a9a9a" stroke-width="1.2" rx="0" />
<polyline points="1117.4,343.3 1117.4,174.7 1050.6,174.7" fill="none" stroke="#c4c4c4" stroke-width="1.2" stroke-linejoin="miter"/>
<line x1="1117.4" y1="179.3" x2="1036" y2="179.3" stroke="#c4c4c4" stroke-width="1.2" />
<line x1="1117.4" y1="183.9" x2="1022.7" y2="183.9" stroke="#c4c4c4" stroke-width="1.2" />
<line x1="967.2" y1="201.25" x2="967.2" y2="254" stroke="#c4c4c4" stroke-width="1.1" />
<line x1="981.6" y1="198" x2="981.6" y2="248" stroke="#c4c4c4" stroke-width="1.1" />
<line x1="995.9" y1="193" x2="995.9" y2="243.7" stroke="#c4c4c4" stroke-width="1.1" />
<line x1="1048" y1="198" x2="1048" y2="238.7" stroke="#c4c4c4" stroke-width="1.6" stroke-dasharray="2,2.4" />
<polygon points="1045.0,199 1048,194 1051.0,199" fill="#c4c4c4"/>
<polygon points="1045.0,237.7 1048,242.7 1051.0,237.7" fill="#c4c4c4"/>
<line x1="1033.6" y1="203" x2="1033.6" y2="243" stroke="#c4c4c4" stroke-width="1.6" stroke-dasharray="2,2.4" />
<polygon points="1030.6,204 1033.6,199 1036.6,204" fill="#c4c4c4"/>
<polygon points="1030.6,242 1033.6,247 1036.6,242" fill="#c4c4c4"/>
<line x1="1016.7" y1="206.25" x2="1016.7" y2="249" stroke="#c4c4c4" stroke-width="1.6" stroke-dasharray="2,2.4" />
<polygon points="1013.7,207.25 1016.7,202.25 1019.7,207.25" fill="#c4c4c4"/>
<polygon points="1013.7,248 1016.7,253 1019.7,248" fill="#c4c4c4"/>
<ellipse cx="1048" cy="219.7" rx="18.2" ry="9" fill="#fff" stroke="#c4c4c4" stroke-width="1.3"/>
<ellipse cx="1033.6" cy="224" rx="18.2" ry="9" fill="#fff" stroke="#c4c4c4" stroke-width="1.3"/>
<ellipse cx="1016.7" cy="227.3" rx="18.2" ry="9" fill="#fff" stroke="#c4c4c4" stroke-width="1.3"/>
<text x="1016.7" y="231.3" font-size="10" fill="#c4c4c4" text-anchor="middle" font-weight="normal" font-style="normal" font-family="Liberation Serif, serif" >S</text>
<polyline points="964.4100000000001,249.5 967.2,254 969.99,249.5" fill="none" stroke="#c4c4c4" stroke-width="1.1" stroke-linejoin="miter"/>
<polyline points="978.8100000000001,243.5 981.6,248 984.39,243.5" fill="none" stroke="#c4c4c4" stroke-width="1.1" stroke-linejoin="miter"/>
<polyline points="993.11,239.2 995.9,243.7 998.6899999999999,239.2" fill="none" stroke="#c4c4c4" stroke-width="1.1" stroke-linejoin="miter"/>
<rect x="746.3" y="164.4" width="109.30000000000007" height="36.900000000000006" fill="#fff" stroke="#111" stroke-width="1.5" rx="0" />
<text x="800.95" y="175.6" font-size="11.6" fill="#111111" text-anchor="middle" font-weight="normal" font-style="normal" font-family="Liberation Serif, serif" textLength="85.9" lengthAdjust="spacing">Student Evaluation</text>
<text x="800.95" y="186.6" font-size="11.6" fill="#111111" text-anchor="middle" font-weight="normal" font-style="normal" font-family="Liberation Serif, serif" textLength="54.2" lengthAdjust="spacing">of Teaching</text>
<text x="800.95" y="197.3" font-size="9.6" fill="#111111" text-anchor="middle" font-weight="normal" font-style="normal" font-family="Liberation Serif, serif" textLength="64.2" lengthAdjust="spacing">(Current Course)</text>
<rect x="665.9" y="254.7" width="108.5" height="37.0" fill="#fff" stroke="#111" stroke-width="1.5" rx="0" />
<text x="720.15" y="265.6" font-size="11.6" fill="#111111" text-anchor="middle" font-weight="normal" font-style="normal" font-family="Liberation Serif, serif" textLength="85.9" lengthAdjust="spacing">Student Evaluation</text>
<text x="720.15" y="276.4" font-size="11.6" fill="#111111" text-anchor="middle" font-weight="normal" font-style="normal" font-family="Liberation Serif, serif" textLength="54.2" lengthAdjust="spacing">of Teaching</text>
<text x="720.15" y="287.5" font-size="9.6" fill="#111111" text-anchor="middle" font-weight="normal" font-style="normal" font-family="Liberation Serif, serif" textLength="51.1" lengthAdjust="spacing">(Past Course)</text>
<rect x="912.6" y="164.3" width="110.10000000000002" height="36.94999999999999" fill="#fff" stroke="#c4c4c4" stroke-width="1.5" rx="0" />
<text x="967.6500000000001" y="180.2" font-size="11.6" fill="#c4c4c4" text-anchor="middle" font-weight="normal" font-style="normal" font-family="Liberation Serif, serif" textLength="79.4" lengthAdjust="spacing">Expected Effects</text>
<text x="967.6500000000001" y="194.4" font-size="11.6" fill="#c4c4c4" text-anchor="middle" font-weight="normal" font-style="normal" font-family="Liberation Serif, serif" textLength="96.4" lengthAdjust="spacing">on Learning Process</text>
<rect x="912.6" y="254" width="110.10000000000002" height="37" fill="#fff" stroke="#111" stroke-width="1.5" rx="0" />
<text x="967.6500000000001" y="270" font-size="11.6" fill="#111111" text-anchor="middle" font-weight="normal" font-style="normal" font-family="Liberation Serif, serif" textLength="81.5" lengthAdjust="spacing">Perceived Effects</text>
<text x="967.6500000000001" y="284.4" font-size="11.6" fill="#111111" text-anchor="middle" font-weight="normal" font-style="normal" font-family="Liberation Serif, serif" textLength="96.4" lengthAdjust="spacing">on Learning Process</text>
<rect x="665.5" y="344" width="109.20000000000005" height="36.39999999999998" fill="#fff" stroke="#111" stroke-width="1.5" rx="0" />
<text x="720.1" y="360.2" font-size="11.6" fill="#111111" text-anchor="middle" font-weight="normal" font-style="normal" font-family="Liberation Serif, serif" textLength="57.5" lengthAdjust="spacing">Experiences</text>
<text x="720.1" y="374.4" font-size="11.6" fill="#111111" text-anchor="middle" font-weight="normal" font-style="normal" font-family="Liberation Serif, serif" textLength="77.2" lengthAdjust="spacing">of Past Lectures</text>
<rect x="665.5" y="485.2" width="109.20000000000005" height="46.80000000000001" fill="#fff" stroke="#111" stroke-width="1.5" rx="0" />
<text x="720.1" y="497.4" font-size="11.6" fill="#111111" text-anchor="middle" font-weight="normal" font-style="normal" font-family="Liberation Serif, serif" textLength="86.2" lengthAdjust="spacing">Teacher’s Percep-</text>
<text x="720.1" y="513.4" font-size="11.6" fill="#111111" text-anchor="middle" font-weight="normal" font-style="normal" font-family="Liberation Serif, serif" textLength="86.8" lengthAdjust="spacing">tions of Students’</text>
<text x="720.1" y="529.2" font-size="11.6" fill="#111111" text-anchor="middle" font-weight="normal" font-style="normal" font-family="Liberation Serif, serif" textLength="61.6" lengthAdjust="spacing">Expectations</text>
<rect x="912.9" y="343.3" width="109.80000000000007" height="37.5" fill="#fff" stroke="#111" stroke-width="1.5" rx="0" />
<text x="967.8" y="359.3" font-size="11.6" fill="#111111" text-anchor="middle" font-weight="normal" font-style="normal" font-family="Liberation Serif, serif" textLength="43.1" lengthAdjust="spacing">Teaching</text>
<text x="967.8" y="374.8" font-size="11.6" fill="#111111" text-anchor="middle" font-weight="normal" font-style="normal" font-family="Liberation Serif, serif" textLength="46.25" lengthAdjust="spacing">Approach</text>
<rect x="912.9" y="434" width="109.80000000000007" height="36.60000000000002" fill="#fff" stroke="#111" stroke-width="1.5" rx="0" />
<text x="967.8" y="449.4" font-size="11.6" fill="#111111" text-anchor="middle" font-weight="normal" font-style="normal" font-family="Liberation Serif, serif" textLength="43.1" lengthAdjust="spacing">Teaching</text>
<text x="967.8" y="464.4" font-size="11.6" fill="#111111" text-anchor="middle" font-weight="normal" font-style="normal" font-family="Liberation Serif, serif" textLength="40.2" lengthAdjust="spacing">Concept</text>
<ellipse cx="1038" cy="349" rx="18.5" ry="9.4" fill="#fff" stroke="#c4c4c4" stroke-width="1.3"/>
<text x="1036" y="353" font-size="10" fill="#c4c4c4" text-anchor="middle" font-weight="normal" font-style="normal" font-family="Liberation Serif, serif" >5.2</text>
<rect x="1061.9" y="343.3" width="109.09999999999991" height="37.5" fill="#fff" stroke="#111" stroke-width="1.5" rx="0" />
<text x="1116.45" y="359.8" font-size="11.6" fill="#111111" text-anchor="middle" font-weight="normal" font-style="normal" font-family="Liberation Serif, serif" textLength="90.9" lengthAdjust="spacing">External Communi-</text>
<text x="1116.45" y="373.6" font-size="11.6" fill="#111111" text-anchor="middle" font-weight="normal" font-style="normal" font-family="Liberation Serif, serif" textLength="83.9" lengthAdjust="spacing">cation to Students</text>
<rect x="1061.6" y="485" width="109.40000000000009" height="47.200000000000045" fill="#fff" stroke="#111" stroke-width="1.5" rx="0" />
<text x="1116.3" y="505.9" font-size="11.6" fill="#111111" text-anchor="middle" font-weight="normal" font-style="normal" font-family="Liberation Serif, serif" textLength="42.1" lengthAdjust="spacing">Teaching</text>
<text x="1116.3" y="521.2" font-size="11.6" fill="#111111" text-anchor="middle" font-weight="normal" font-style="normal" font-family="Liberation Serif, serif" textLength="51" lengthAdjust="spacing">Objectives</text>
<polyline points="812.8100000000001,205.8 815.6,201.3 818.39,205.8" fill="none" stroke="#111" stroke-width="1.3" stroke-linejoin="miter"/>
<polyline points="717.01,339.5 719.8,344 722.5899999999999,339.5" fill="none" stroke="#111" stroke-width="1.3" stroke-linejoin="miter"/>
<polyline points="731.21,339.5 734,344 736.79,339.5" fill="none" stroke="#9a9a9a" stroke-width="1.2" stroke-linejoin="miter"/>
<polyline points="745.21,339.5 748,344 750.79,339.5" fill="none" stroke="#bdbdbd" stroke-width="1.2" stroke-linejoin="miter"/>
<polyline points="717.01,480.7 719.8,485.2 722.5899999999999,480.7" fill="none" stroke="#111" stroke-width="1.3" stroke-linejoin="miter"/>
<polyline points="964.71,295.5 967.5,291 970.29,295.5" fill="none" stroke="#111" stroke-width="1.3" stroke-linejoin="miter"/>
<polyline points="964.71,385.3 967.5,380.8 970.29,385.3" fill="none" stroke="#111" stroke-width="1.3" stroke-linejoin="miter"/>
<polyline points="1114.6100000000001,385.3 1117.4,380.8 1120.19,385.3" fill="none" stroke="#111" stroke-width="1.3" stroke-linejoin="miter"/>
<polyline points="950.3100000000001,475.1 953.1,470.6 955.89,475.1" fill="none" stroke="#111" stroke-width="1.3" stroke-linejoin="miter"/>
<polyline points="980.01,475.1 982.8,470.6 985.5899999999999,475.1" fill="none" stroke="#111" stroke-width="1.3" stroke-linejoin="miter"/>
<polyline points="1055.1,171.91 1050.6,174.7 1055.1,177.48999999999998" fill="none" stroke="#c4c4c4" stroke-width="1.2" stroke-linejoin="miter"/>
<polyline points="1040.5,176.51000000000002 1036,179.3 1040.5,182.09" fill="none" stroke="#c4c4c4" stroke-width="1.2" stroke-linejoin="miter"/>
<polyline points="1027.2,181.11 1022.7,183.9 1027.2,186.69" fill="none" stroke="#c4c4c4" stroke-width="1.2" stroke-linejoin="miter"/>
<ellipse cx="885.2" cy="403.75" rx="18.5" ry="9.4" fill="#fff" stroke="#c4c4c4" stroke-width="1.3"/>
<text x="885.2" y="407.75" font-size="10" fill="#c4c4c4" text-anchor="middle" font-weight="normal" font-style="normal" font-family="Liberation Serif, serif" >1</text>
<ellipse cx="991.5" cy="403.75" rx="18.5" ry="9.4" fill="#fff" stroke="#c4c4c4" stroke-width="1.3"/>
<text x="991.5" y="407.75" font-size="10" fill="#c4c4c4" text-anchor="middle" font-weight="normal" font-style="normal" font-family="Liberation Serif, serif" >4</text>
<ellipse cx="1090.3" cy="437.8" rx="18.5" ry="9.4" fill="#fff" stroke="#c4c4c4" stroke-width="1.3"/>
<text x="1090.3" y="441.8" font-size="10" fill="#c4c4c4" text-anchor="middle" font-weight="normal" font-style="normal" font-family="Liberation Serif, serif" >5.1</text>
<ellipse cx="920.6" cy="501.6" rx="18.5" ry="9.4" fill="#fff" stroke="#c4c4c4" stroke-width="1.3"/>
<text x="920.6" y="505.6" font-size="10" fill="#c4c4c4" text-anchor="middle" font-weight="normal" font-style="normal" font-family="Liberation Serif, serif" >2.1</text>
<ellipse cx="1015.7" cy="501.6" rx="18.5" ry="9.4" fill="#fff" stroke="#c4c4c4" stroke-width="1.3"/>
<text x="1015.7" y="505.6" font-size="10" fill="#c4c4c4" text-anchor="middle" font-weight="normal" font-style="normal" font-family="Liberation Serif, serif" >2.2</text>
<ellipse cx="967.8" cy="528.7" rx="18.5" ry="9.4" fill="#fff" stroke="#c4c4c4" stroke-width="1.3"/>
<text x="967.8" y="532.7" font-size="10" fill="#c4c4c4" text-anchor="middle" font-weight="normal" font-style="normal" font-family="Liberation Serif, serif" >3</text>
<rect x="727.9" y="147.1" width="26.100000000000023" height="27.700000000000017" fill="#000" stroke="none" stroke-width="1" rx="4.5" />
<text x="740.95" y="167.04999999999998" font-size="15.5" fill="#fff" text-anchor="middle" font-weight="normal" font-style="normal" font-family="Liberation Serif, serif" textLength="25.5" lengthAdjust="spacingAndGlyphs">SCE</text>
<rect x="647.3" y="238" width="25.90000000000009" height="27.5" fill="#000" stroke="none" stroke-width="1" rx="4.5" />
<text x="660.25" y="257.85" font-size="15.5" fill="#fff" text-anchor="middle" font-weight="normal" font-style="normal" font-family="Liberation Serif, serif" textLength="25" lengthAdjust="spacingAndGlyphs">SET</text>
<rect x="894.8" y="237.7" width="26.100000000000023" height="27.600000000000023" fill="#000" stroke="none" stroke-width="1" rx="4.5" />
<text x="907.8499999999999" y="257.6" font-size="15.5" fill="#fff" text-anchor="middle" font-weight="normal" font-style="normal" font-family="Liberation Serif, serif" textLength="24.5" lengthAdjust="spacingAndGlyphs">SoS</text>
<rect x="648" y="327.8" width="25.5" height="27.099999999999966" fill="#000" stroke="none" stroke-width="1" rx="4.5" />
<text x="660.75" y="347.45000000000005" font-size="15.5" fill="#fff" text-anchor="middle" font-weight="normal" font-style="normal" font-family="Liberation Serif, serif" textLength="14.5" lengthAdjust="spacingAndGlyphs">Int</text>
<rect x="894.6" y="327.7" width="26.0" height="27.100000000000023" fill="#000" stroke="none" stroke-width="1" rx="4.5" />
<text x="907.6" y="347.35" font-size="15.5" fill="#fff" text-anchor="middle" font-weight="normal" font-style="normal" font-family="Liberation Serif, serif" textLength="24.5" lengthAdjust="spacingAndGlyphs">Obs</text>
<rect x="1043.5" y="327.7" width="25.5" height="27.100000000000023" fill="#000" stroke="none" stroke-width="1" rx="4.5" />
<text x="1056.25" y="347.35" font-size="15.5" fill="#fff" text-anchor="middle" font-weight="normal" font-style="normal" font-family="Liberation Serif, serif" textLength="24.5" lengthAdjust="spacingAndGlyphs">ExS</text>
<rect x="894.6" y="417.9" width="26.0" height="27.100000000000023" fill="#000" stroke="none" stroke-width="1" rx="4.5" />
<text x="907.6" y="437.55" font-size="15.5" fill="#fff" text-anchor="middle" font-weight="normal" font-style="normal" font-family="Liberation Serif, serif" textLength="14.5" lengthAdjust="spacingAndGlyphs">Int</text>
<rect x="648" y="468.5" width="25.5" height="26.80000000000001" fill="#000" stroke="none" stroke-width="1" rx="4.5" />
<text x="660.75" y="488.0" font-size="15.5" fill="#fff" text-anchor="middle" font-weight="normal" font-style="normal" font-family="Liberation Serif, serif" textLength="14.5" lengthAdjust="spacingAndGlyphs">Int</text>
<rect x="1042.8" y="469" width="26.200000000000045" height="26.19999999999999" fill="#000" stroke="none" stroke-width="1" rx="4.5" />
<text x="1055.9" y="488.20000000000005" font-size="15.5" fill="#fff" text-anchor="middle" font-weight="normal" font-style="normal" font-family="Liberation Serif, serif" textLength="14.5" lengthAdjust="spacingAndGlyphs">Int</text>
<text x="936" y="219.9" font-size="12.5" fill="#c4c4c4" text-anchor="middle" font-weight="normal" font-style="normal" font-family="Liberation Serif, serif" textLength="24" lengthAdjust="spacing">Core</text>
<text x="936.5" y="235.6" font-size="12.5" fill="#c4c4c4" text-anchor="middle" font-weight="normal" font-style="normal" font-family="Liberation Serif, serif" textLength="36.5" lengthAdjust="spacing">Service</text>
<text x="1139.8" y="136" font-size="12.3" fill="#000" text-anchor="start" font-weight="bold" font-style="normal" font-family="Liberation Serif, serif" textLength="44.2" lengthAdjust="spacing">Students</text>
<text x="1141.2" y="324.8" font-size="12.3" fill="#000" text-anchor="start" font-weight="bold" font-style="normal" font-family="Liberation Serif, serif" textLength="41.1" lengthAdjust="spacing">Teacher</text>
<text x="703.8" y="569.5" font-size="12" fill="#000" text-anchor="start" font-weight="bold" font-style="normal" font-family="Liberation Serif, serif" textLength="150.2" lengthAdjust="spacing">Methods of Empirical Study:</text>
<text x="863.1" y="569.5" font-size="12" fill="#111" text-anchor="start" font-weight="normal" font-style="normal" font-family="Liberation Serif, serif" textLength="13" lengthAdjust="spacing">Int</text>
<text x="863.1" y="585.3" font-size="12" fill="#111" text-anchor="start" font-weight="normal" font-style="normal" font-family="Liberation Serif, serif" textLength="18.5" lengthAdjust="spacing">Obs</text>
<text x="863.1" y="601" font-size="12" fill="#111" text-anchor="start" font-weight="normal" font-style="normal" font-family="Liberation Serif, serif" textLength="18.5" lengthAdjust="spacing">SoS</text>
<text x="863.1" y="616.5" font-size="12" fill="#111" text-anchor="start" font-weight="normal" font-style="normal" font-family="Liberation Serif, serif" textLength="21" lengthAdjust="spacing">SET</text>
<text x="863.1" y="632" font-size="12" fill="#111" text-anchor="start" font-weight="normal" font-style="normal" font-family="Liberation Serif, serif" textLength="20" lengthAdjust="spacing">ExS</text>
<text x="893.6" y="569.5" font-size="12" fill="#111" text-anchor="start" font-weight="normal" font-style="normal" font-family="Liberation Serif, serif" textLength="152.1" lengthAdjust="spacing"><tspan font-weight="bold">Int</tspan><tspan font-weight="normal">erview with Course Teacher</tspan></text>
<text x="893.6" y="585.3" font-size="12" fill="#111" text-anchor="start" font-weight="normal" font-style="normal" font-family="Liberation Serif, serif" textLength="114.6" lengthAdjust="spacing"><tspan font-weight="bold">Obs</tspan><tspan font-weight="normal">ervation  of Course</tspan></text>
<text x="893.6" y="601" font-size="12" fill="#111" text-anchor="start" font-weight="normal" font-style="normal" font-family="Liberation Serif, serif" textLength="249" lengthAdjust="spacing"><tspan font-weight="bold">S</tspan><tspan font-weight="normal">urvey </tspan><tspan font-weight="bold">o</tspan><tspan font-weight="normal">f </tspan><tspan font-weight="bold">S</tspan><tspan font-weight="normal">tudents Attending the Observed Course</tspan></text>
<text x="893.6" y="616.5" font-size="12" fill="#111" text-anchor="start" font-weight="normal" font-style="normal" font-family="Liberation Serif, serif" textLength="321.3" lengthAdjust="spacing"><tspan font-weight="normal">Document Analysis: Appraisal of </tspan><tspan font-weight="bold">S</tspan><tspan font-weight="normal">tudent </tspan><tspan font-weight="bold">E</tspan><tspan font-weight="normal">valuation of </tspan><tspan font-weight="bold">T</tspan><tspan font-weight="normal">eaching</tspan></text>
<text x="893.6" y="632" font-size="12" fill="#111" text-anchor="start" font-weight="normal" font-style="normal" font-family="Liberation Serif, serif" textLength="249" lengthAdjust="spacing"><tspan font-weight="normal">Document Analysis: Appraisal of </tspan><tspan font-weight="bold">Ex</tspan><tspan font-weight="normal">ternal </tspan><tspan font-weight="bold">S</tspan><tspan font-weight="normal">ources</tspan></text>
<text x="695" y="669" font-size="16.3" fill="#3e4b60" text-anchor="middle" font-weight="normal" font-style="italic" font-family="Liberation Sans, sans-serif" textLength="970" lengthAdjust="spacingAndGlyphs">Gap model of interaction between student and teachers and possible areas of measurement (Source: (Ahn et al., 2017, pp. 126, 130))</text>
<line x1="174" y1="681.5" x2="1190" y2="681.5" stroke="#b8c4d4" stroke-width="1" />
<text x="185" y="707" font-size="10" fill="#2f3a5a" text-anchor="start" font-weight="bold" font-style="normal" font-family="Liberation Sans, sans-serif" textLength="74" lengthAdjust="spacingAndGlyphs">PROFFORMANCE</text>
<text x="263" y="707" font-size="10" fill="#555" text-anchor="start" font-weight="normal" font-style="normal" font-family="Liberation Sans, sans-serif" textLength="477" lengthAdjust="spacingAndGlyphs">– Assessment Tool and Incentive Systems for Developing Higher Education Teachers' Performance</text>
<line x1="174" y1="723.5" x2="1190" y2="723.5" stroke="#b8c4d4" stroke-width="1" />
<rect x="0" y="728" width="1366" height="40" fill="#324f65" stroke="none" stroke-width="1" rx="0" />
<rect x="249" y="765.5" width="40" height="2.5" fill="#8fc0e8" stroke="none" stroke-width="1" rx="0" />
<rect x="298" y="765.5" width="40" height="2.5" fill="#8fc0e8" stroke="none" stroke-width="1" rx="0" />
<rect x="347" y="765.5" width="40" height="2.5" fill="#8fc0e8" stroke="none" stroke-width="1" rx="0" />
<rect x="396" y="765.5" width="40" height="2.5" fill="#8fc0e8" stroke="none" stroke-width="1" rx="0" />
<rect x="494" y="765.5" width="40" height="2.5" fill="#8fc0e8" stroke="none" stroke-width="1" rx="0" />
<rect x="592" y="765.5" width="40" height="2.5" fill="#8fc0e8" stroke="none" stroke-width="1" rx="0" />
<rect x="641" y="765.5" width="40" height="2.5" fill="#8fc0e8" stroke="none" stroke-width="1" rx="0" />
<rect x="690" y="765.5" width="40" height="2.5" fill="#8fc0e8" stroke="none" stroke-width="1" rx="0" />
<rect x="739" y="765.5" width="40" height="2.5" fill="#8fc0e8" stroke="none" stroke-width="1" rx="0" />
<rect x="543" y="765.5" width="31" height="2.5" fill="#8fc0e8" stroke="none" stroke-width="1" rx="0" />
<rect x="575" y="765.5" width="8" height="2.5" fill="#6d8fa8" stroke="none" stroke-width="1" rx="0" />
<rect x="784" y="728" width="48" height="40" fill="#1e5a86" stroke="none" stroke-width="1" rx="0" />
<rect x="784" y="765.5" width="48" height="2.5" fill="#8fc0e8" stroke="none" stroke-width="1" rx="0" />
<g fill="#fff"><polygon points="16,742 23.3,741 23.3,747.6 16,747.6"/><polygon points="24.4,740.8 32.6,739.6 32.6,747.6 24.4,747.6"/><polygon points="16,748.7 23.3,748.7 23.3,755.3 16,754.3"/><polygon points="24.4,748.7 32.6,748.7 32.6,756.6 24.4,755.5"/></g>
<circle cx="74.2" cy="746.3" r="6.3" fill="none" stroke="#fff" stroke-width="1.3"/><line x1="69.6" y1="751" x2="64.2" y2="756.2" stroke="#fff" stroke-width="1.5"/>
<g fill="none" stroke="#fff" stroke-width="1.2"><line x1="111.6" y1="740.6" x2="123" y2="740.6"/><line x1="111.6" y1="754.6" x2="123" y2="754.6"/><rect x="112.6" y="743.4" width="10" height="8.4"/><line x1="127" y1="740" x2="127" y2="755.5"/></g><rect x="125.6" y="745" width="3" height="3.5" fill="#fff"/>
<rect x="159" y="736" width="24" height="24" fill="#2b6fe3" stroke="none" stroke-width="1" rx="0" />
<g fill="#fff"><polygon points="164,749 178,749 178,754 164,754"/><line x1="168" y1="741" x2="178" y2="748" stroke="#fff" stroke-width="1.4"/><rect x="166" y="751" width="8" height="1" fill="#2b6fe3"/></g>
<rect x="211" y="736" width="18" height="24" fill="#8a9096" stroke="none" stroke-width="1" rx="1.5" />
<rect x="213" y="738" width="14" height="4" fill="#4fd0f0" stroke="none" stroke-width="1" rx="0" />
<rect x="213.0" y="744.0" width="3.6" height="4" fill="#e6e6e6" stroke="none" stroke-width="1" rx="0" />
<rect x="217.8" y="744.0" width="3.6" height="4" fill="#e6e6e6" stroke="none" stroke-width="1" rx="0" />
<rect x="222.6" y="744.0" width="3.6" height="4" fill="#e6e6e6" stroke="none" stroke-width="1" rx="0" />
<rect x="213.0" y="749.2" width="3.6" height="4" fill="#e6e6e6" stroke="none" stroke-width="1" rx="0" />
<rect x="217.8" y="749.2" width="3.6" height="4" fill="#e6e6e6" stroke="none" stroke-width="1" rx="0" />
<rect x="222.6" y="749.2" width="3.6" height="4" fill="#e6e6e6" stroke="none" stroke-width="1" rx="0" />
<rect x="213.0" y="754.4" width="3.6" height="4" fill="#e6e6e6" stroke="none" stroke-width="1" rx="0" />
<rect x="217.8" y="754.4" width="3.6" height="4" fill="#e6e6e6" stroke="none" stroke-width="1" rx="0" />
<rect x="222.6" y="754.4" width="3.6" height="4" fill="#e6e6e6" stroke="none" stroke-width="1" rx="0" />
<rect x="222.6" y="749.2" width="3.6" height="9.2" fill="#1a3f86" stroke="none" stroke-width="1" rx="0" />
<ellipse cx="269" cy="745" rx="11.5" ry="7.5" fill="#e8e8e8" stroke="#e04040" stroke-width="1.5" transform="rotate(-18 269 745)"/>
<path d="M262 750 Q270 756 279 749" fill="none" stroke="#777" stroke-width="1.5"/>
<circle cx="271" cy="756" r="2.4" fill="none" stroke="#1a8ae0" stroke-width="1.4"/><circle cx="278" cy="753.5" r="2.4" fill="none" stroke="#1a8ae0" stroke-width="1.4"/><line x1="267" y1="741" x2="272" y2="753" stroke="#666" stroke-width="0.9"/><line x1="275" y1="740" x2="276" y2="751" stroke="#666" stroke-width="0.9"/>
<path d="M307 740 L314 740 L316 742 L328.5 742 L328.5 756.5 L307 756.5 Z" fill="#f5cd5c"/><rect x="307" y="743" width="21.5" height="13.5" fill="#ffe08a"/><path d="M312 756.5 L312 750.5 L323.5 750.5 L323.5 756.5 L320.5 756.5 L320.5 753.5 L315 753.5 L315 756.5 Z" fill="#2f8fe0"/>
<rect x="356.4" y="740" width="20.8" height="14.8" fill="#dfe3e8" stroke="none" stroke-width="1" rx="0.5" />
<rect x="356.4" y="740" width="20.8" height="2" fill="#9aa4ae" stroke="none" stroke-width="1" rx="0" />
<rect x="363.5" y="742.5" width="6.8" height="10.5" fill="#1a78e8" stroke="none" stroke-width="1" rx="0" />
<rect x="358.5" y="744.5" width="3.5" height="0.9" fill="#8a939c" stroke="none" stroke-width="1" rx="0" />
<rect x="372" y="744.5" width="3.5" height="0.9" fill="#8a939c" stroke="none" stroke-width="1" rx="0" />
<rect x="358.5" y="747" width="3.5" height="0.9" fill="#8a939c" stroke="none" stroke-width="1" rx="0" />
<rect x="372" y="747" width="3.5" height="0.9" fill="#8a939c" stroke="none" stroke-width="1" rx="0" />
<rect x="358.5" y="749.5" width="3.5" height="0.9" fill="#8a939c" stroke="none" stroke-width="1" rx="0" />
<rect x="372" y="749.5" width="3.5" height="0.9" fill="#8a939c" stroke="none" stroke-width="1" rx="0" />
<path d="M404 748 L416 737 L428 742 L418 754 Z" fill="#f0f0f0" stroke="#555" stroke-width="0.8"/><path d="M406 752 L417 759 L428 746 L428 743 L418 754 Z" fill="#cfcfcf" stroke="#444" stroke-width="0.7"/><path d="M405 744 Q410 737 418 738" fill="none" stroke="#ddd" stroke-width="2.5"/>
<text x="452" y="756" font-size="22" fill="#14608f" text-anchor="start" font-weight="bold" font-style="normal" font-family="Liberation Sans, sans-serif" stroke="#dfe8ee" stroke-width="0.5" textLength="17" lengthAdjust="spacingAndGlyphs">N</text>
<text x="462.5" y="759.5" font-size="15" fill="#14608f" text-anchor="start" font-weight="bold" font-style="normal" font-family="Liberation Sans, sans-serif" stroke="#fff" stroke-width="0.9" textLength="14" lengthAdjust="spacingAndGlyphs">x</text>
<path d="M514 736.5 Q525.5 736.5 525.5 747 Q525.5 756 515 756.5 L511 760 L511 756 Q502.5 754 502.5 747 Q502.5 736.5 514 736.5 Z" fill="#7360f2" stroke="#fff" stroke-width="1.2"/>
<path d="M509 742 Q508 750 517 752 L518.5 750 L516 748.5 L514.5 749.5 Q511.5 748 511.5 745 L512.5 743.5 L511 741 Z" fill="#fff"/>
<circle cx="562.7" cy="748" r="11.2" fill="#db4437"/>
<path d="M562.7 748 L553 753.6 A11.2 11.2 0 0 0 567.5 758.1 Z" fill="#0f9d58"/>
<path d="M562.7 748 L567.5 758.1 A11.2 11.2 0 0 0 573.9 748 L562.7 742.4 Z" fill="#ffcd40"/>
<path d="M562.7 748 L553 753.6 A11.2 11.2 0 0 1 553 742.4 Z" fill="#0f9d58"/>
<circle cx="562.7" cy="748" r="5" fill="#fff"/><circle cx="562.7" cy="748" r="4" fill="#4285f4"/>
<circle cx="615" cy="741" r="3.3" fill="#7b83eb"/><circle cx="622" cy="742" r="2.4" fill="#5059c9"/><path d="M609 745 L625 745 L625 753 Q617 758 609 753 Z" fill="#7b83eb"/>
<rect x="600" y="741" width="13" height="13" fill="#4b53bc" stroke="none" stroke-width="1" rx="1.2" />
<text x="606.5" y="751.5" font-size="10" fill="#fff" text-anchor="middle" font-weight="bold" font-style="normal" font-family="Liberation Sans, sans-serif" >T</text>
<circle cx="620.5" cy="755.5" r="4.6" fill="#c4262e" stroke="#fff" stroke-width="1.3"/>
<path d="M652 738 L671 740 L671 753 L652 751 Z" fill="#1b3fb0" stroke="#ccc" stroke-width="1.2"/><path d="M655 741 L668 742.5 L668 750 L655 748.5 Z" fill="#6f8ff0"/><rect x="657" y="753" width="10" height="3" fill="#bbb"/>
<circle cx="667" cy="754" r="5.5" fill="#e0e0e0" stroke="#999" stroke-width="0.8"/><path d="M664 754 L670 754" stroke="#2a9a3a" stroke-width="1.3"/>
<rect x="707" y="741" width="14" height="16" fill="#fff" stroke="none" stroke-width="1" rx="0" />
<rect x="709" y="743.5" width="10" height="1" fill="#2b579a" stroke="none" stroke-width="1" rx="0" />
<rect x="709" y="746" width="10" height="1" fill="#2b579a" stroke="none" stroke-width="1" rx="0" />
<rect x="709" y="748.5" width="10" height="1" fill="#2b579a" stroke="none" stroke-width="1" rx="0" />
<rect x="709" y="751" width="10" height="1" fill="#2b579a" stroke="none" stroke-width="1" rx="0" />
<rect x="709" y="753.5" width="10" height="1" fill="#2b579a" stroke="none" stroke-width="1" rx="0" />
<polygon points="698.6,739.5 712,737 712,759 698.6,756.5" fill="#2b579a"/>
<text x="705.3" y="752" font-size="8.5" fill="#fff" text-anchor="middle" font-weight="bold" font-style="normal" font-family="Liberation Sans, sans-serif" >W</text>
<circle cx="759" cy="748" r="11.5" fill="#1e88d8"/><path d="M747.5 748 A11.5 11.5 0 0 1 770.5 748 Q770.5 754 764 755 Q758 755 757 750 Q756 745 762 744 Q755 740 750 744 Z" fill="#52c872"/><path d="M757 750 Q758 755 764 755 Q768 755 770 752 Q768 759 759 759.5 Q750 759 748 750 Q752 744 757 745 Z" fill="#0c59a4"/>
<rect x="796.5" y="737.5" width="22.5" height="22" fill="#4a8cff" stroke="none" stroke-width="1" rx="5.5" />
<rect x="801" y="744.3" width="9.5" height="8.6" fill="#fff" stroke="none" stroke-width="1" rx="1.5" />
<polygon points="810.5,747 815,744.3 815,752.9 810.5,750.2" fill="#fff"/>
<g fill="none" stroke="#fff" stroke-width="1.1"><circle cx="1079" cy="746" r="2.6"/><path d="M1074.5 755 Q1075 749.5 1079 749.5 Q1083 749.5 1083.5 755 Z"/><circle cx="1085.5" cy="742" r="2.6"/><path d="M1082.5 746.5 Q1084 745.5 1085.5 745.5 Q1089.5 745.5 1090 751 L1084 751"/></g>
<polyline points="1111.5,752 1117.5,746 1123.5,752" fill="none" stroke="#fff" stroke-width="1.2"/>
<g fill="none" stroke="#fff" stroke-width="1.1"><rect x="1138.5" y="744.5" width="10.5" height="7"/><line x1="1150" y1="746.5" x2="1150" y2="749.5"/><path d="M1134.5 745 L1134.5 743 M1137 745 L1137 743 M1134 745 L1137.5 745 L1137.5 748 L1135.75 749 L1135.75 752"/></g><rect x="1140.5" y="746.2" width="7" height="3.6" fill="#fff"/>
<g fill="none" stroke="#fff" stroke-width="1.1"><path d="M1162 755 A12 12 0 0 1 1174 743"/><path d="M1165 755 A9 9 0 0 1 1174 746"/><path d="M1168 755 A6 6 0 0 1 1174 749"/></g><circle cx="1172" cy="753.5" r="1.5" fill="#fff"/>
<g fill="none" stroke="#fff" stroke-width="1.1"><path d="M1182.5 745 L1185.5 745 L1189.5 741.5 L1189.5 754.5 L1185.5 751 L1182.5 751 Z"/><path d="M1192 745.5 Q1194 748 1192 750.5"/><path d="M1194.5 743.5 Q1197.5 748 1194.5 752.5" stroke="#aab"/><path d="M1197 741.5 Q1201 748 1197 754.5" stroke="#889"/></g>
<text x="1207" y="752.5" font-size="12" fill="#fff" text-anchor="start" font-weight="normal" font-style="normal" font-family="Liberation Sans, sans-serif" textLength="26" lengthAdjust="spacingAndGlyphs">HUN</text>
<text x="1275" y="743" font-size="12" fill="#fff" text-anchor="middle" font-weight="normal" font-style="normal" font-family="Liberation Sans, sans-serif" textLength="26" lengthAdjust="spacingAndGlyphs">15:13</text>
<text x="1275.5" y="760.5" font-size="12" fill="#fff" text-anchor="middle" font-weight="normal" font-style="normal" font-family="Liberation Sans, sans-serif" textLength="63" lengthAdjust="spacingAndGlyphs">2021. 06. 07.</text>
<path d="M1325.5 740.5 L1341.5 740.5 L1341.5 752.5 L1336 752.5 L1333 756 L1330 752.5 L1325.5 752.5 Z" fill="none" stroke="#fff" stroke-width="1.1"/>
<line x1="1360.5" y1="728" x2="1360.5" y2="768" stroke="#5b7386" stroke-width="1" /></svg>
</body></html>
